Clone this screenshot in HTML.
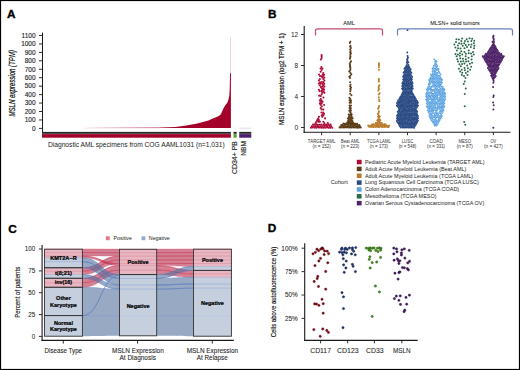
<!DOCTYPE html>
<html><head><meta charset="utf-8"><title>Figure</title>
<style>
html,body{margin:0;padding:0;background:#fff;}
body{width:520px;height:370px;overflow:hidden;}
svg{display:block;font-family:"Liberation Sans", sans-serif;}
</style></head><body>
<svg width="520" height="370" viewBox="0 0 520 370">
<rect x="0" y="0" width="520" height="370" fill="#fff"/>
<text x="7.00" y="17.70" font-size="11.8" text-anchor="start" fill="#000" font-weight="bold" stroke="#000" stroke-width="0.35">A</text>
<line x1="39.00" y1="128.40" x2="42.50" y2="128.40" stroke="#1a1a1a" stroke-width="0.9"/>
<text x="35.60" y="130.70" font-size="6.5" text-anchor="end" fill="#222" stroke="#222" stroke-width="0.12">0</text>
<line x1="39.00" y1="119.96" x2="42.50" y2="119.96" stroke="#1a1a1a" stroke-width="0.9"/>
<text x="35.60" y="122.26" font-size="6.5" text-anchor="end" fill="#222" stroke="#222" stroke-width="0.12">100</text>
<line x1="39.00" y1="111.51" x2="42.50" y2="111.51" stroke="#1a1a1a" stroke-width="0.9"/>
<text x="35.60" y="113.81" font-size="6.5" text-anchor="end" fill="#222" stroke="#222" stroke-width="0.12">200</text>
<line x1="39.00" y1="103.06" x2="42.50" y2="103.06" stroke="#1a1a1a" stroke-width="0.9"/>
<text x="35.60" y="105.36" font-size="6.5" text-anchor="end" fill="#222" stroke="#222" stroke-width="0.12">300</text>
<line x1="39.00" y1="94.62" x2="42.50" y2="94.62" stroke="#1a1a1a" stroke-width="0.9"/>
<text x="35.60" y="96.92" font-size="6.5" text-anchor="end" fill="#222" stroke="#222" stroke-width="0.12">400</text>
<line x1="39.00" y1="86.18" x2="42.50" y2="86.18" stroke="#1a1a1a" stroke-width="0.9"/>
<text x="35.60" y="88.48" font-size="6.5" text-anchor="end" fill="#222" stroke="#222" stroke-width="0.12">500</text>
<line x1="39.00" y1="77.73" x2="42.50" y2="77.73" stroke="#1a1a1a" stroke-width="0.9"/>
<text x="35.60" y="80.03" font-size="6.5" text-anchor="end" fill="#222" stroke="#222" stroke-width="0.12">600</text>
<line x1="39.00" y1="69.29" x2="42.50" y2="69.29" stroke="#1a1a1a" stroke-width="0.9"/>
<text x="35.60" y="71.59" font-size="6.5" text-anchor="end" fill="#222" stroke="#222" stroke-width="0.12">700</text>
<line x1="39.00" y1="60.84" x2="42.50" y2="60.84" stroke="#1a1a1a" stroke-width="0.9"/>
<text x="35.60" y="63.14" font-size="6.5" text-anchor="end" fill="#222" stroke="#222" stroke-width="0.12">800</text>
<line x1="39.00" y1="52.40" x2="42.50" y2="52.40" stroke="#1a1a1a" stroke-width="0.9"/>
<text x="35.60" y="54.70" font-size="6.5" text-anchor="end" fill="#222" stroke="#222" stroke-width="0.12">900</text>
<line x1="39.00" y1="43.95" x2="42.50" y2="43.95" stroke="#1a1a1a" stroke-width="0.9"/>
<text x="35.60" y="46.25" font-size="6.5" text-anchor="end" fill="#222" stroke="#222" stroke-width="0.12">1000</text>
<line x1="39.00" y1="35.51" x2="42.50" y2="35.51" stroke="#1a1a1a" stroke-width="0.9"/>
<text x="35.60" y="37.81" font-size="6.5" text-anchor="end" fill="#222" stroke="#222" stroke-width="0.12">1100</text>
<line x1="42.50" y1="32.60" x2="42.50" y2="133.00" stroke="#1a1a1a" stroke-width="1.0"/>
<text transform="translate(14.60,116.60) rotate(-90)" font-size="8.2" text-anchor="start" fill="#111" font-style="italic" textLength="66.60" lengthAdjust="spacingAndGlyphs" stroke="#111" stroke-width="0.22">MSLN expression (TPM)</text>
<path d="M42.00,127.90 L84.00,127.90 L120.00,127.80 L160.00,127.50 L175.30,126.90 L186.40,125.60 L197.40,123.40 L208.50,120.50 L212.90,118.60 L217.30,116.70 L220.20,115.00 L221.50,113.00 L222.90,109.60 L225.10,105.40 L227.30,102.80 L228.40,99.80 L229.30,95.50 L229.70,89.00 L229.90,80.00 L230.00,73.00 L230.90,73.00 L230.90,127.90 Z" fill="#a3002a"/>
<rect x="230.10" y="37.30" width="0.80" height="36.00" fill="#f3c6d0"/>
<line x1="84.00" y1="128.20" x2="160.00" y2="128.20" stroke="#f4d4dc" stroke-width="0.6"/>
<rect x="42.00" y="131.90" width="188.90" height="1.90" fill="#262626"/>
<rect x="42.00" y="134.10" width="188.90" height="3.60" fill="#a3002a"/>
<rect x="233.50" y="131.90" width="3.20" height="1.90" fill="#262626"/>
<rect x="233.50" y="134.10" width="3.20" height="3.60" fill="#5aa02c"/>
<line x1="234.00" y1="128.10" x2="236.20" y2="128.10" stroke="#c8e0b8" stroke-width="0.6"/>
<rect x="239.20" y="131.90" width="12.10" height="1.90" fill="#262626"/>
<rect x="239.20" y="134.10" width="12.10" height="3.60" fill="#4b1f6f"/>
<line x1="239.20" y1="128.20" x2="251.30" y2="128.20" stroke="#d8cce4" stroke-width="0.7"/>
<text x="48.00" y="146.50" font-size="6.5" text-anchor="start" fill="#222" textLength="176.60" lengthAdjust="spacingAndGlyphs">Diagnostic AML specimens from COG AAML1031 (n=1,031)</text>
<text transform="translate(237.20,174.10) rotate(-90)" font-size="6.5" text-anchor="start" fill="#222" textLength="33.00" lengthAdjust="spacingAndGlyphs" stroke="#222" stroke-width="0.12">CD34+ PB</text>
<text transform="translate(246.30,155.70) rotate(-90)" font-size="6.5" text-anchor="start" fill="#222" textLength="14.60" lengthAdjust="spacingAndGlyphs" stroke="#222" stroke-width="0.12">NBM</text>
<text x="268.00" y="18.00" font-size="11.8" text-anchor="start" fill="#000" font-weight="bold" stroke="#000" stroke-width="0.35">B</text>
<line x1="301.00" y1="127.50" x2="304.20" y2="127.50" stroke="#1a1a1a" stroke-width="0.9"/>
<text x="298.20" y="129.80" font-size="6.5" text-anchor="end" fill="#222">0</text>
<line x1="301.00" y1="96.50" x2="304.20" y2="96.50" stroke="#1a1a1a" stroke-width="0.9"/>
<text x="298.20" y="98.80" font-size="6.5" text-anchor="end" fill="#222">4</text>
<line x1="301.00" y1="65.50" x2="304.20" y2="65.50" stroke="#1a1a1a" stroke-width="0.9"/>
<text x="298.20" y="67.80" font-size="6.5" text-anchor="end" fill="#222">8</text>
<line x1="301.00" y1="34.50" x2="304.20" y2="34.50" stroke="#1a1a1a" stroke-width="0.9"/>
<text x="298.20" y="36.80" font-size="6.5" text-anchor="end" fill="#222">12</text>
<line x1="304.20" y1="26.00" x2="304.20" y2="132.70" stroke="#1a1a1a" stroke-width="1.1"/>
<line x1="303.50" y1="132.20" x2="510.50" y2="132.20" stroke="#1a1a1a" stroke-width="1.1"/>
<text transform="translate(284.30,124.90) rotate(-90)" font-size="7.8" text-anchor="start" fill="#111" textLength="91.60" lengthAdjust="spacingAndGlyphs" stroke="#111" stroke-width="0.2">MSLN expression (log2 TPM + 1)</text>
<line x1="321.60" y1="132.20" x2="321.60" y2="135.20" stroke="#1a1a1a" stroke-width="0.9"/>
<line x1="350.23" y1="132.20" x2="350.23" y2="135.20" stroke="#1a1a1a" stroke-width="0.9"/>
<line x1="378.86" y1="132.20" x2="378.86" y2="135.20" stroke="#1a1a1a" stroke-width="0.9"/>
<line x1="407.49" y1="132.20" x2="407.49" y2="135.20" stroke="#1a1a1a" stroke-width="0.9"/>
<line x1="436.12" y1="132.20" x2="436.12" y2="135.20" stroke="#1a1a1a" stroke-width="0.9"/>
<line x1="464.75" y1="132.20" x2="464.75" y2="135.20" stroke="#1a1a1a" stroke-width="0.9"/>
<line x1="493.38" y1="132.20" x2="493.38" y2="135.20" stroke="#1a1a1a" stroke-width="0.9"/>
<path d="M315.5,35.5 V30.8 Q315.5,28.8 317.5,28.8 H380.5 Q382.5,28.8 382.5,30.8 V35.5" fill="none" stroke="#c4486a" stroke-width="1.2"/>
<path d="M397.5,35.5 V30.8 Q397.5,28.8 399.5,28.8 H510.5 Q512.5,28.8 512.5,30.8 V35.5" fill="none" stroke="#6a80b4" stroke-width="1.2"/>
<text x="349.00" y="25.40" font-size="5.6" text-anchor="middle" fill="#222" textLength="11.60" lengthAdjust="spacingAndGlyphs" stroke="#222" stroke-width="0.06">AML</text>
<text x="430.20" y="25.40" font-size="5.6" text-anchor="start" fill="#222" textLength="49.60" lengthAdjust="spacingAndGlyphs" stroke="#222" stroke-width="0.06">MLSN+ solid tumors</text>
<text x="321.60" y="143.10" font-size="4.5" text-anchor="middle" fill="#333" textLength="27.50" lengthAdjust="spacingAndGlyphs">TARGET AML</text>
<text x="321.60" y="148.00" font-size="4.5" text-anchor="middle" fill="#333" textLength="18.30" lengthAdjust="spacingAndGlyphs">(n = 152)</text>
<text x="350.23" y="143.10" font-size="4.5" text-anchor="middle" fill="#333" textLength="19.00" lengthAdjust="spacingAndGlyphs">Beat AML</text>
<text x="350.23" y="148.00" font-size="4.5" text-anchor="middle" fill="#333" textLength="18.30" lengthAdjust="spacingAndGlyphs">(n = 223)</text>
<text x="378.86" y="143.10" font-size="4.5" text-anchor="middle" fill="#333" textLength="23.90" lengthAdjust="spacingAndGlyphs">TCGA LAML</text>
<text x="378.86" y="148.00" font-size="4.5" text-anchor="middle" fill="#333" textLength="18.30" lengthAdjust="spacingAndGlyphs">(n = 173)</text>
<text x="407.49" y="143.10" font-size="4.5" text-anchor="middle" fill="#333" textLength="11.60" lengthAdjust="spacingAndGlyphs">LUSC</text>
<text x="407.49" y="148.00" font-size="4.5" text-anchor="middle" fill="#333" textLength="17.70" lengthAdjust="spacingAndGlyphs">(n = 548)</text>
<text x="436.12" y="143.10" font-size="4.5" text-anchor="middle" fill="#333" textLength="13.40" lengthAdjust="spacingAndGlyphs">COAD</text>
<text x="436.12" y="148.00" font-size="4.5" text-anchor="middle" fill="#333" textLength="18.00" lengthAdjust="spacingAndGlyphs">(n = 331)</text>
<text x="464.75" y="143.10" font-size="4.5" text-anchor="middle" fill="#333" textLength="12.70" lengthAdjust="spacingAndGlyphs">MESO</text>
<text x="464.75" y="148.00" font-size="4.5" text-anchor="middle" fill="#333" textLength="16.10" lengthAdjust="spacingAndGlyphs">(n = 87)</text>
<text x="493.38" y="143.10" font-size="4.5" text-anchor="middle" fill="#333" textLength="5.80" lengthAdjust="spacingAndGlyphs">OV</text>
<text x="493.38" y="148.00" font-size="4.5" text-anchor="middle" fill="#333" textLength="18.90" lengthAdjust="spacingAndGlyphs">(n = 427)</text>
<text x="330.80" y="184.20" font-size="5.9" text-anchor="start" fill="#222" textLength="16.90" lengthAdjust="spacingAndGlyphs">Cohort</text>
<rect x="356.80" y="159.80" width="4.80" height="4.50" fill="#ae0c36"/>
<text x="365.00" y="163.80" font-size="5.5" text-anchor="start" fill="#222" textLength="119.60" lengthAdjust="spacingAndGlyphs">Pediatric Acute Myeloid Leukemia (TARGET AML)</text>
<rect x="356.80" y="166.65" width="4.80" height="4.50" fill="#5a3a16"/>
<text x="365.00" y="170.65" font-size="5.5" text-anchor="start" fill="#222" textLength="101.30" lengthAdjust="spacingAndGlyphs">Adult Acute Myeloid Leukemia (Beat AML)</text>
<rect x="356.80" y="173.50" width="4.80" height="4.50" fill="#b87a2c"/>
<text x="365.00" y="177.50" font-size="5.5" text-anchor="start" fill="#222" textLength="108.10" lengthAdjust="spacingAndGlyphs">Adult Acute Myeloid Leukemia (TCGA LAML)</text>
<rect x="356.80" y="180.35" width="4.80" height="4.50" fill="#2a4a84"/>
<text x="365.00" y="184.35" font-size="5.5" text-anchor="start" fill="#222" textLength="113.80" lengthAdjust="spacingAndGlyphs">Lung Squamous Cell Carcinoma (TCGA LUSC)</text>
<rect x="356.80" y="187.20" width="4.80" height="4.50" fill="#5ca3e2"/>
<text x="365.00" y="191.20" font-size="5.5" text-anchor="start" fill="#222" textLength="94.20" lengthAdjust="spacingAndGlyphs">Colon Adenocarcinoma (TCGA COAD)</text>
<rect x="356.80" y="194.05" width="4.80" height="4.50" fill="#2a6a4a"/>
<text x="365.00" y="198.05" font-size="5.5" text-anchor="start" fill="#222" textLength="71.50" lengthAdjust="spacingAndGlyphs">Mesothelioma (TCGA MESO)</text>
<rect x="356.80" y="200.90" width="4.80" height="4.50" fill="#4f2268"/>
<text x="365.00" y="204.90" font-size="5.5" text-anchor="start" fill="#222" textLength="119.20" lengthAdjust="spacingAndGlyphs">Ovarian Serous Cystadenocarcinoma (TCGA OV)</text>
<g fill="#ae0c36"><circle cx="321.62" cy="55.07" r="1.05"/><circle cx="321.59" cy="56.29" r="1.05"/><circle cx="321.65" cy="58.05" r="1.05"/><circle cx="320.85" cy="59.57" r="1.05"/><circle cx="321.41" cy="67.04" r="1.05"/><circle cx="320.60" cy="68.44" r="1.05"/><circle cx="322.46" cy="68.52" r="1.05"/><circle cx="321.66" cy="70.05" r="1.05"/><circle cx="320.64" cy="71.77" r="1.05"/><circle cx="323.24" cy="73.00" r="1.05"/><circle cx="319.08" cy="74.56" r="1.05"/><circle cx="322.66" cy="74.74" r="1.05"/><circle cx="324.11" cy="74.77" r="1.05"/><circle cx="320.04" cy="76.08" r="1.05"/><circle cx="321.65" cy="76.23" r="1.05"/><circle cx="323.18" cy="76.05" r="1.05"/><circle cx="322.37" cy="77.47" r="1.05"/><circle cx="324.34" cy="77.50" r="1.05"/><circle cx="319.83" cy="79.02" r="1.05"/><circle cx="323.41" cy="78.99" r="1.05"/><circle cx="318.86" cy="80.57" r="1.05"/><circle cx="324.38" cy="80.55" r="1.05"/><circle cx="319.99" cy="82.24" r="1.05"/><circle cx="321.80" cy="82.06" r="1.05"/><circle cx="323.46" cy="82.11" r="1.05"/><circle cx="318.80" cy="83.53" r="1.05"/><circle cx="320.62" cy="83.74" r="1.05"/><circle cx="322.46" cy="83.88" r="1.05"/><circle cx="324.25" cy="83.84" r="1.05"/><circle cx="319.71" cy="85.37" r="1.05"/><circle cx="323.23" cy="85.31" r="1.05"/><circle cx="320.91" cy="86.88" r="1.05"/><circle cx="322.44" cy="86.57" r="1.05"/><circle cx="324.41" cy="86.62" r="1.05"/><circle cx="321.73" cy="88.28" r="1.05"/><circle cx="323.22" cy="88.33" r="1.05"/><circle cx="318.87" cy="89.78" r="1.05"/><circle cx="322.39" cy="89.92" r="1.05"/><circle cx="324.03" cy="89.66" r="1.05"/><circle cx="319.67" cy="91.14" r="1.05"/><circle cx="321.63" cy="91.12" r="1.05"/><circle cx="323.51" cy="91.46" r="1.05"/><circle cx="322.33" cy="92.60" r="1.05"/><circle cx="324.39" cy="92.87" r="1.05"/><circle cx="321.65" cy="94.30" r="1.05"/><circle cx="319.17" cy="95.65" r="1.05"/><circle cx="320.82" cy="95.98" r="1.05"/><circle cx="323.42" cy="97.49" r="1.05"/><circle cx="320.84" cy="98.99" r="1.05"/><circle cx="319.88" cy="100.41" r="1.05"/><circle cx="321.66" cy="100.56" r="1.05"/><circle cx="320.82" cy="101.91" r="1.05"/><circle cx="322.61" cy="101.71" r="1.05"/><circle cx="319.89" cy="103.39" r="1.05"/><circle cx="321.68" cy="103.39" r="1.05"/><circle cx="320.53" cy="104.83" r="1.05"/><circle cx="324.09" cy="105.07" r="1.05"/><circle cx="321.76" cy="106.36" r="1.05"/><circle cx="320.70" cy="108.06" r="1.05"/><circle cx="321.63" cy="109.38" r="1.05"/><circle cx="323.35" cy="109.59" r="1.05"/><circle cx="321.47" cy="112.47" r="1.05"/><circle cx="323.24" cy="112.45" r="1.05"/><circle cx="322.61" cy="114.20" r="1.05"/><circle cx="324.05" cy="113.82" r="1.05"/><circle cx="321.68" cy="115.55" r="1.05"/><circle cx="323.47" cy="115.33" r="1.05"/><circle cx="318.96" cy="116.85" r="1.05"/><circle cx="322.33" cy="116.85" r="1.05"/><circle cx="318.15" cy="118.61" r="1.05"/><circle cx="325.09" cy="118.42" r="1.05"/><circle cx="317.21" cy="120.15" r="1.05"/><circle cx="318.88" cy="120.00" r="1.05"/><circle cx="316.47" cy="121.74" r="1.05"/><circle cx="318.27" cy="121.67" r="1.05"/><circle cx="319.83" cy="121.63" r="1.05"/><circle cx="323.38" cy="121.73" r="1.05"/><circle cx="315.54" cy="122.98" r="1.05"/><circle cx="324.38" cy="123.29" r="1.05"/><circle cx="327.84" cy="123.03" r="1.05"/><circle cx="312.99" cy="124.55" r="1.05"/><circle cx="314.58" cy="124.63" r="1.05"/><circle cx="316.34" cy="124.42" r="1.05"/><circle cx="317.93" cy="124.73" r="1.05"/><circle cx="319.78" cy="124.73" r="1.05"/><circle cx="321.46" cy="124.62" r="1.05"/><circle cx="323.49" cy="124.69" r="1.05"/><circle cx="325.10" cy="124.79" r="1.05"/><circle cx="326.74" cy="124.62" r="1.05"/><circle cx="328.69" cy="124.67" r="1.05"/><circle cx="330.49" cy="124.64" r="1.05"/><circle cx="311.93" cy="126.27" r="1.05"/><circle cx="313.61" cy="126.27" r="1.05"/><circle cx="315.48" cy="126.16" r="1.05"/><circle cx="317.24" cy="126.13" r="1.05"/><circle cx="318.79" cy="126.32" r="1.05"/><circle cx="320.69" cy="126.25" r="1.05"/><circle cx="322.47" cy="126.20" r="1.05"/><circle cx="324.24" cy="126.09" r="1.05"/><circle cx="326.14" cy="126.04" r="1.05"/><circle cx="327.58" cy="126.10" r="1.05"/><circle cx="329.64" cy="126.12" r="1.05"/><circle cx="331.10" cy="126.18" r="1.05"/><circle cx="310.95" cy="127.76" r="1.05"/><circle cx="312.73" cy="127.53" r="1.05"/><circle cx="314.53" cy="127.59" r="1.05"/><circle cx="316.19" cy="127.74" r="1.05"/><circle cx="318.10" cy="127.54" r="1.05"/><circle cx="319.86" cy="127.62" r="1.05"/><circle cx="321.57" cy="127.66" r="1.05"/><circle cx="323.23" cy="127.70" r="1.05"/><circle cx="325.11" cy="127.78" r="1.05"/><circle cx="326.99" cy="127.54" r="1.05"/><circle cx="328.72" cy="127.81" r="1.05"/><circle cx="330.28" cy="127.81" r="1.05"/><circle cx="332.30" cy="127.80" r="1.05"/></g>
<g fill="#5a3a16"><circle cx="350.29" cy="41.87" r="1.0"/><circle cx="349.79" cy="43.01" r="1.0"/><circle cx="350.50" cy="45.76" r="1.0"/><circle cx="350.21" cy="46.86" r="1.0"/><circle cx="350.96" cy="48.12" r="1.0"/><circle cx="350.16" cy="49.56" r="1.0"/><circle cx="350.61" cy="51.06" r="1.0"/><circle cx="350.07" cy="52.39" r="1.0"/><circle cx="350.95" cy="53.35" r="1.0"/><circle cx="350.28" cy="54.66" r="1.0"/><circle cx="350.44" cy="56.22" r="1.0"/><circle cx="350.20" cy="57.43" r="1.0"/><circle cx="350.00" cy="58.78" r="1.0"/><circle cx="351.04" cy="61.23" r="1.0"/><circle cx="350.30" cy="62.43" r="1.0"/><circle cx="349.74" cy="64.01" r="1.0"/><circle cx="350.04" cy="65.31" r="1.0"/><circle cx="349.98" cy="66.45" r="1.0"/><circle cx="350.34" cy="67.62" r="1.0"/><circle cx="350.41" cy="68.89" r="1.0"/><circle cx="350.17" cy="70.43" r="1.0"/><circle cx="349.21" cy="71.59" r="1.0"/><circle cx="350.41" cy="72.97" r="1.0"/><circle cx="351.33" cy="74.22" r="1.0"/><circle cx="350.33" cy="75.74" r="1.0"/><circle cx="349.32" cy="76.81" r="1.0"/><circle cx="350.03" cy="77.99" r="1.0"/><circle cx="350.17" cy="82.18" r="1.0"/><circle cx="350.54" cy="84.66" r="1.0"/><circle cx="350.14" cy="86.14" r="1.0"/><circle cx="351.00" cy="87.41" r="1.0"/><circle cx="350.41" cy="88.57" r="1.0"/><circle cx="350.55" cy="89.78" r="1.0"/><circle cx="350.30" cy="91.24" r="1.0"/><circle cx="350.13" cy="93.73" r="1.0"/><circle cx="351.46" cy="95.23" r="1.0"/><circle cx="349.45" cy="97.69" r="1.0"/><circle cx="350.26" cy="98.89" r="1.0"/><circle cx="349.57" cy="100.28" r="1.0"/><circle cx="351.06" cy="100.42" r="1.0"/><circle cx="350.39" cy="101.72" r="1.0"/><circle cx="349.60" cy="102.80" r="1.0"/><circle cx="350.92" cy="102.78" r="1.0"/><circle cx="349.50" cy="105.50" r="1.0"/><circle cx="350.99" cy="105.53" r="1.0"/><circle cx="350.13" cy="106.71" r="1.0"/><circle cx="349.55" cy="107.91" r="1.0"/><circle cx="350.90" cy="108.13" r="1.0"/><circle cx="350.29" cy="109.52" r="1.0"/><circle cx="349.29" cy="110.64" r="1.0"/><circle cx="350.85" cy="110.71" r="1.0"/><circle cx="350.13" cy="111.88" r="1.0"/><circle cx="350.92" cy="113.16" r="1.0"/><circle cx="348.70" cy="114.43" r="1.0"/><circle cx="350.23" cy="114.62" r="1.0"/><circle cx="351.72" cy="114.59" r="1.0"/><circle cx="349.38" cy="115.83" r="1.0"/><circle cx="351.11" cy="115.73" r="1.0"/><circle cx="348.83" cy="117.10" r="1.0"/><circle cx="350.30" cy="117.33" r="1.0"/><circle cx="351.80" cy="117.08" r="1.0"/><circle cx="347.91" cy="118.44" r="1.0"/><circle cx="349.40" cy="118.30" r="1.0"/><circle cx="351.00" cy="118.34" r="1.0"/><circle cx="352.60" cy="118.36" r="1.0"/><circle cx="348.77" cy="119.70" r="1.0"/><circle cx="350.39" cy="119.67" r="1.0"/><circle cx="351.79" cy="119.88" r="1.0"/><circle cx="348.09" cy="121.00" r="1.0"/><circle cx="349.39" cy="121.00" r="1.0"/><circle cx="350.93" cy="121.00" r="1.0"/><circle cx="352.35" cy="120.92" r="1.0"/><circle cx="347.42" cy="122.35" r="1.0"/><circle cx="348.86" cy="122.49" r="1.0"/><circle cx="350.17" cy="122.43" r="1.0"/><circle cx="351.58" cy="122.48" r="1.0"/><circle cx="353.11" cy="122.49" r="1.0"/><circle cx="343.40" cy="123.44" r="1.0"/><circle cx="344.85" cy="123.72" r="1.0"/><circle cx="346.36" cy="123.51" r="1.0"/><circle cx="348.12" cy="123.68" r="1.0"/><circle cx="349.55" cy="123.65" r="1.0"/><circle cx="350.99" cy="123.70" r="1.0"/><circle cx="352.48" cy="123.69" r="1.0"/><circle cx="354.03" cy="123.59" r="1.0"/><circle cx="355.49" cy="123.72" r="1.0"/><circle cx="357.15" cy="123.63" r="1.0"/><circle cx="341.31" cy="125.12" r="1.0"/><circle cx="342.70" cy="124.90" r="1.0"/><circle cx="344.33" cy="125.07" r="1.0"/><circle cx="345.55" cy="124.78" r="1.0"/><circle cx="347.05" cy="124.74" r="1.0"/><circle cx="348.58" cy="125.01" r="1.0"/><circle cx="350.42" cy="125.12" r="1.0"/><circle cx="351.91" cy="124.75" r="1.0"/><circle cx="353.40" cy="124.93" r="1.0"/><circle cx="354.83" cy="124.91" r="1.0"/><circle cx="356.16" cy="124.83" r="1.0"/><circle cx="357.77" cy="125.12" r="1.0"/><circle cx="359.34" cy="125.11" r="1.0"/><circle cx="340.40" cy="126.40" r="1.0"/><circle cx="342.05" cy="126.04" r="1.0"/><circle cx="343.47" cy="126.33" r="1.0"/><circle cx="345.08" cy="126.17" r="1.0"/><circle cx="346.62" cy="126.43" r="1.0"/><circle cx="347.86" cy="126.28" r="1.0"/><circle cx="349.42" cy="126.13" r="1.0"/><circle cx="351.02" cy="126.09" r="1.0"/><circle cx="352.66" cy="126.33" r="1.0"/><circle cx="353.95" cy="126.08" r="1.0"/><circle cx="355.53" cy="126.10" r="1.0"/><circle cx="357.02" cy="126.27" r="1.0"/><circle cx="358.40" cy="126.18" r="1.0"/><circle cx="359.91" cy="126.24" r="1.0"/><circle cx="339.60" cy="127.49" r="1.0"/><circle cx="341.16" cy="127.48" r="1.0"/><circle cx="342.91" cy="127.45" r="1.0"/><circle cx="344.29" cy="127.49" r="1.0"/><circle cx="345.79" cy="127.36" r="1.0"/><circle cx="347.07" cy="127.43" r="1.0"/><circle cx="348.93" cy="127.60" r="1.0"/><circle cx="350.21" cy="127.45" r="1.0"/><circle cx="351.62" cy="127.41" r="1.0"/><circle cx="353.28" cy="127.57" r="1.0"/><circle cx="354.91" cy="127.52" r="1.0"/><circle cx="356.19" cy="127.52" r="1.0"/><circle cx="357.82" cy="127.63" r="1.0"/><circle cx="359.24" cy="127.62" r="1.0"/><circle cx="360.79" cy="127.58" r="1.0"/></g>
<g fill="#b87a2c"><circle cx="378.93" cy="63.37" r="1.0"/><circle cx="379.12" cy="64.46" r="1.0"/><circle cx="378.95" cy="65.75" r="1.0"/><circle cx="378.81" cy="67.17" r="1.0"/><circle cx="378.90" cy="69.65" r="1.0"/><circle cx="378.96" cy="78.91" r="1.0"/><circle cx="378.72" cy="80.11" r="1.0"/><circle cx="378.99" cy="81.61" r="1.0"/><circle cx="379.33" cy="85.36" r="1.0"/><circle cx="378.74" cy="86.69" r="1.0"/><circle cx="378.51" cy="87.94" r="1.0"/><circle cx="378.86" cy="89.17" r="1.0"/><circle cx="378.38" cy="90.41" r="1.0"/><circle cx="379.67" cy="93.35" r="1.0"/><circle cx="378.72" cy="94.60" r="1.0"/><circle cx="378.83" cy="97.22" r="1.0"/><circle cx="379.00" cy="99.62" r="1.0"/><circle cx="379.40" cy="101.01" r="1.0"/><circle cx="379.11" cy="106.10" r="1.0"/><circle cx="378.73" cy="107.54" r="1.0"/><circle cx="378.00" cy="108.82" r="1.0"/><circle cx="378.92" cy="111.30" r="1.0"/><circle cx="378.66" cy="112.86" r="1.0"/><circle cx="377.91" cy="114.00" r="1.0"/><circle cx="378.85" cy="115.21" r="1.0"/><circle cx="377.91" cy="116.49" r="1.0"/><circle cx="379.80" cy="116.57" r="1.0"/><circle cx="378.93" cy="117.78" r="1.0"/><circle cx="378.11" cy="119.32" r="1.0"/><circle cx="379.51" cy="119.23" r="1.0"/><circle cx="377.26" cy="120.49" r="1.0"/><circle cx="378.76" cy="120.37" r="1.0"/><circle cx="380.30" cy="120.27" r="1.0"/><circle cx="377.94" cy="121.86" r="1.0"/><circle cx="379.41" cy="121.86" r="1.0"/><circle cx="375.85" cy="123.08" r="1.0"/><circle cx="377.28" cy="123.03" r="1.0"/><circle cx="379.01" cy="122.90" r="1.0"/><circle cx="380.25" cy="122.98" r="1.0"/><circle cx="381.67" cy="122.91" r="1.0"/><circle cx="372.09" cy="124.50" r="1.0"/><circle cx="373.43" cy="124.37" r="1.0"/><circle cx="375.23" cy="124.28" r="1.0"/><circle cx="376.63" cy="124.20" r="1.0"/><circle cx="378.01" cy="124.50" r="1.0"/><circle cx="379.60" cy="124.30" r="1.0"/><circle cx="381.23" cy="124.24" r="1.0"/><circle cx="382.68" cy="124.53" r="1.0"/><circle cx="384.28" cy="124.33" r="1.0"/><circle cx="385.66" cy="124.49" r="1.0"/><circle cx="368.21" cy="125.51" r="1.0"/><circle cx="369.98" cy="125.67" r="1.0"/><circle cx="371.54" cy="125.57" r="1.0"/><circle cx="372.68" cy="125.46" r="1.0"/><circle cx="374.20" cy="125.74" r="1.0"/><circle cx="376.06" cy="125.78" r="1.0"/><circle cx="377.41" cy="125.79" r="1.0"/><circle cx="378.78" cy="125.76" r="1.0"/><circle cx="380.28" cy="125.85" r="1.0"/><circle cx="381.77" cy="125.77" r="1.0"/><circle cx="383.16" cy="125.46" r="1.0"/><circle cx="384.79" cy="125.83" r="1.0"/><circle cx="386.50" cy="125.79" r="1.0"/><circle cx="388.06" cy="125.76" r="1.0"/><circle cx="389.26" cy="125.64" r="1.0"/><circle cx="369.12" cy="126.83" r="1.0"/><circle cx="370.60" cy="126.83" r="1.0"/><circle cx="371.92" cy="127.08" r="1.0"/><circle cx="373.45" cy="126.99" r="1.0"/><circle cx="375.26" cy="126.95" r="1.0"/><circle cx="376.74" cy="126.84" r="1.0"/><circle cx="378.17" cy="126.92" r="1.0"/><circle cx="379.42" cy="127.10" r="1.0"/><circle cx="381.25" cy="126.81" r="1.0"/><circle cx="382.61" cy="127.12" r="1.0"/><circle cx="384.10" cy="126.99" r="1.0"/><circle cx="385.62" cy="126.75" r="1.0"/><circle cx="387.21" cy="126.89" r="1.0"/><circle cx="388.43" cy="127.03" r="1.0"/></g>
<g fill="#2a4a84"><circle cx="407.57" cy="56.06" r="1.0"/><circle cx="407.92" cy="57.39" r="1.0"/><circle cx="407.41" cy="58.67" r="1.0"/><circle cx="407.17" cy="59.79" r="1.0"/><circle cx="407.43" cy="61.10" r="1.0"/><circle cx="406.79" cy="62.35" r="1.0"/><circle cx="408.31" cy="62.36" r="1.0"/><circle cx="407.34" cy="63.73" r="1.0"/><circle cx="406.62" cy="65.28" r="1.0"/><circle cx="408.44" cy="65.07" r="1.0"/><circle cx="406.14" cy="66.47" r="1.0"/><circle cx="407.53" cy="66.45" r="1.0"/><circle cx="408.83" cy="66.54" r="1.0"/><circle cx="405.12" cy="67.67" r="1.0"/><circle cx="406.86" cy="67.69" r="1.0"/><circle cx="408.37" cy="67.53" r="1.0"/><circle cx="409.55" cy="67.79" r="1.0"/><circle cx="404.50" cy="68.83" r="1.0"/><circle cx="406.06" cy="69.00" r="1.0"/><circle cx="407.48" cy="68.96" r="1.0"/><circle cx="408.83" cy="68.98" r="1.0"/><circle cx="410.64" cy="69.17" r="1.0"/><circle cx="405.10" cy="70.37" r="1.0"/><circle cx="406.55" cy="70.37" r="1.0"/><circle cx="408.21" cy="70.23" r="1.0"/><circle cx="409.92" cy="70.19" r="1.0"/><circle cx="404.37" cy="71.64" r="1.0"/><circle cx="405.89" cy="71.54" r="1.0"/><circle cx="407.41" cy="71.78" r="1.0"/><circle cx="408.90" cy="71.76" r="1.0"/><circle cx="410.39" cy="71.40" r="1.0"/><circle cx="403.62" cy="72.78" r="1.0"/><circle cx="405.15" cy="72.79" r="1.0"/><circle cx="406.91" cy="72.80" r="1.0"/><circle cx="408.19" cy="72.91" r="1.0"/><circle cx="409.92" cy="72.99" r="1.0"/><circle cx="411.38" cy="72.83" r="1.0"/><circle cx="404.67" cy="74.20" r="1.0"/><circle cx="405.92" cy="74.35" r="1.0"/><circle cx="407.39" cy="74.36" r="1.0"/><circle cx="408.93" cy="74.09" r="1.0"/><circle cx="410.37" cy="74.26" r="1.0"/><circle cx="403.64" cy="75.46" r="1.0"/><circle cx="405.19" cy="75.60" r="1.0"/><circle cx="406.69" cy="75.46" r="1.0"/><circle cx="408.13" cy="75.34" r="1.0"/><circle cx="409.60" cy="75.55" r="1.0"/><circle cx="411.30" cy="75.55" r="1.0"/><circle cx="403.16" cy="76.85" r="1.0"/><circle cx="404.31" cy="76.75" r="1.0"/><circle cx="405.98" cy="76.96" r="1.0"/><circle cx="407.31" cy="76.86" r="1.0"/><circle cx="409.01" cy="76.62" r="1.0"/><circle cx="410.46" cy="76.98" r="1.0"/><circle cx="412.12" cy="76.96" r="1.0"/><circle cx="403.86" cy="78.01" r="1.0"/><circle cx="405.19" cy="78.12" r="1.0"/><circle cx="406.72" cy="78.20" r="1.0"/><circle cx="408.25" cy="78.00" r="1.0"/><circle cx="409.64" cy="78.16" r="1.0"/><circle cx="411.04" cy="78.28" r="1.0"/><circle cx="403.19" cy="79.55" r="1.0"/><circle cx="404.63" cy="79.34" r="1.0"/><circle cx="405.93" cy="79.56" r="1.0"/><circle cx="407.34" cy="79.56" r="1.0"/><circle cx="409.07" cy="79.57" r="1.0"/><circle cx="410.62" cy="79.36" r="1.0"/><circle cx="411.82" cy="79.36" r="1.0"/><circle cx="403.86" cy="80.65" r="1.0"/><circle cx="405.43" cy="80.65" r="1.0"/><circle cx="406.55" cy="80.83" r="1.0"/><circle cx="408.20" cy="80.69" r="1.0"/><circle cx="409.63" cy="80.58" r="1.0"/><circle cx="411.38" cy="80.58" r="1.0"/><circle cx="403.14" cy="82.00" r="1.0"/><circle cx="404.56" cy="82.05" r="1.0"/><circle cx="406.10" cy="81.95" r="1.0"/><circle cx="407.59" cy="82.03" r="1.0"/><circle cx="408.86" cy="81.93" r="1.0"/><circle cx="410.44" cy="82.02" r="1.0"/><circle cx="412.09" cy="81.92" r="1.0"/><circle cx="402.37" cy="83.20" r="1.0"/><circle cx="403.79" cy="83.13" r="1.0"/><circle cx="405.15" cy="83.44" r="1.0"/><circle cx="406.60" cy="83.29" r="1.0"/><circle cx="408.23" cy="83.33" r="1.0"/><circle cx="409.92" cy="83.15" r="1.0"/><circle cx="411.05" cy="83.28" r="1.0"/><circle cx="412.59" cy="83.31" r="1.0"/><circle cx="402.91" cy="84.54" r="1.0"/><circle cx="404.53" cy="84.52" r="1.0"/><circle cx="406.13" cy="84.60" r="1.0"/><circle cx="407.62" cy="84.78" r="1.0"/><circle cx="408.80" cy="84.50" r="1.0"/><circle cx="410.36" cy="84.46" r="1.0"/><circle cx="411.84" cy="84.72" r="1.0"/><circle cx="402.20" cy="85.91" r="1.0"/><circle cx="403.85" cy="85.85" r="1.0"/><circle cx="405.35" cy="85.71" r="1.0"/><circle cx="406.87" cy="85.77" r="1.0"/><circle cx="408.12" cy="85.89" r="1.0"/><circle cx="409.69" cy="85.89" r="1.0"/><circle cx="411.39" cy="85.93" r="1.0"/><circle cx="412.57" cy="85.98" r="1.0"/><circle cx="403.01" cy="87.07" r="1.0"/><circle cx="404.33" cy="87.17" r="1.0"/><circle cx="405.94" cy="87.00" r="1.0"/><circle cx="407.68" cy="87.12" r="1.0"/><circle cx="408.93" cy="87.09" r="1.0"/><circle cx="410.68" cy="87.29" r="1.0"/><circle cx="411.81" cy="87.16" r="1.0"/><circle cx="402.06" cy="88.43" r="1.0"/><circle cx="403.58" cy="88.48" r="1.0"/><circle cx="405.41" cy="88.64" r="1.0"/><circle cx="406.61" cy="88.66" r="1.0"/><circle cx="408.18" cy="88.60" r="1.0"/><circle cx="409.92" cy="88.56" r="1.0"/><circle cx="411.10" cy="88.65" r="1.0"/><circle cx="412.82" cy="88.40" r="1.0"/><circle cx="402.91" cy="89.64" r="1.0"/><circle cx="404.34" cy="89.67" r="1.0"/><circle cx="405.87" cy="89.66" r="1.0"/><circle cx="407.38" cy="89.58" r="1.0"/><circle cx="409.05" cy="89.70" r="1.0"/><circle cx="410.51" cy="89.66" r="1.0"/><circle cx="411.88" cy="89.90" r="1.0"/><circle cx="403.54" cy="91.21" r="1.0"/><circle cx="405.24" cy="91.25" r="1.0"/><circle cx="406.64" cy="90.89" r="1.0"/><circle cx="408.22" cy="91.16" r="1.0"/><circle cx="409.93" cy="91.25" r="1.0"/><circle cx="411.24" cy="91.24" r="1.0"/><circle cx="402.84" cy="92.43" r="1.0"/><circle cx="404.68" cy="92.30" r="1.0"/><circle cx="405.91" cy="92.30" r="1.0"/><circle cx="407.61" cy="92.18" r="1.0"/><circle cx="408.89" cy="92.56" r="1.0"/><circle cx="410.47" cy="92.55" r="1.0"/><circle cx="411.94" cy="92.33" r="1.0"/><circle cx="402.32" cy="93.59" r="1.0"/><circle cx="403.77" cy="93.78" r="1.0"/><circle cx="405.23" cy="93.85" r="1.0"/><circle cx="406.92" cy="93.76" r="1.0"/><circle cx="408.18" cy="93.82" r="1.0"/><circle cx="409.84" cy="93.63" r="1.0"/><circle cx="411.05" cy="93.76" r="1.0"/><circle cx="412.74" cy="93.76" r="1.0"/><circle cx="401.67" cy="95.04" r="1.0"/><circle cx="403.16" cy="94.79" r="1.0"/><circle cx="404.66" cy="95.11" r="1.0"/><circle cx="406.14" cy="94.84" r="1.0"/><circle cx="407.41" cy="95.14" r="1.0"/><circle cx="408.92" cy="94.97" r="1.0"/><circle cx="410.64" cy="94.81" r="1.0"/><circle cx="412.19" cy="94.77" r="1.0"/><circle cx="413.45" cy="95.12" r="1.0"/><circle cx="400.77" cy="96.39" r="1.0"/><circle cx="402.37" cy="96.08" r="1.0"/><circle cx="403.55" cy="96.41" r="1.0"/><circle cx="405.08" cy="96.24" r="1.0"/><circle cx="406.55" cy="96.32" r="1.0"/><circle cx="408.17" cy="96.09" r="1.0"/><circle cx="409.87" cy="96.38" r="1.0"/><circle cx="411.14" cy="96.45" r="1.0"/><circle cx="412.93" cy="96.23" r="1.0"/><circle cx="414.31" cy="96.38" r="1.0"/><circle cx="400.10" cy="97.57" r="1.0"/><circle cx="401.48" cy="97.38" r="1.0"/><circle cx="402.92" cy="97.44" r="1.0"/><circle cx="404.50" cy="97.49" r="1.0"/><circle cx="406.17" cy="97.54" r="1.0"/><circle cx="407.29" cy="97.51" r="1.0"/><circle cx="408.99" cy="97.77" r="1.0"/><circle cx="410.30" cy="97.39" r="1.0"/><circle cx="412.09" cy="97.76" r="1.0"/><circle cx="413.53" cy="97.52" r="1.0"/><circle cx="414.84" cy="97.53" r="1.0"/><circle cx="399.36" cy="98.88" r="1.0"/><circle cx="400.88" cy="98.79" r="1.0"/><circle cx="402.33" cy="98.92" r="1.0"/><circle cx="403.79" cy="99.03" r="1.0"/><circle cx="405.26" cy="99.05" r="1.0"/><circle cx="406.91" cy="99.02" r="1.0"/><circle cx="408.08" cy="99.02" r="1.0"/><circle cx="409.67" cy="99.05" r="1.0"/><circle cx="411.30" cy="98.76" r="1.0"/><circle cx="412.63" cy="98.71" r="1.0"/><circle cx="414.22" cy="98.97" r="1.0"/><circle cx="415.66" cy="98.78" r="1.0"/><circle cx="398.34" cy="100.19" r="1.0"/><circle cx="400.07" cy="100.07" r="1.0"/><circle cx="401.33" cy="100.15" r="1.0"/><circle cx="402.79" cy="100.22" r="1.0"/><circle cx="404.40" cy="100.09" r="1.0"/><circle cx="405.85" cy="100.07" r="1.0"/><circle cx="407.50" cy="100.03" r="1.0"/><circle cx="408.99" cy="100.31" r="1.0"/><circle cx="410.56" cy="100.18" r="1.0"/><circle cx="411.96" cy="100.29" r="1.0"/><circle cx="413.51" cy="100.16" r="1.0"/><circle cx="414.96" cy="100.03" r="1.0"/><circle cx="416.30" cy="100.19" r="1.0"/><circle cx="397.89" cy="101.64" r="1.0"/><circle cx="399.36" cy="101.41" r="1.0"/><circle cx="400.73" cy="101.56" r="1.0"/><circle cx="402.42" cy="101.45" r="1.0"/><circle cx="403.61" cy="101.56" r="1.0"/><circle cx="405.20" cy="101.42" r="1.0"/><circle cx="406.77" cy="101.38" r="1.0"/><circle cx="408.06" cy="101.46" r="1.0"/><circle cx="409.58" cy="101.35" r="1.0"/><circle cx="411.05" cy="101.55" r="1.0"/><circle cx="412.87" cy="101.61" r="1.0"/><circle cx="414.41" cy="101.32" r="1.0"/><circle cx="415.64" cy="101.54" r="1.0"/><circle cx="417.32" cy="101.35" r="1.0"/><circle cx="396.92" cy="102.95" r="1.0"/><circle cx="398.57" cy="102.74" r="1.0"/><circle cx="399.83" cy="102.65" r="1.0"/><circle cx="401.37" cy="102.76" r="1.0"/><circle cx="402.84" cy="102.71" r="1.0"/><circle cx="404.66" cy="102.88" r="1.0"/><circle cx="405.91" cy="102.66" r="1.0"/><circle cx="407.50" cy="102.95" r="1.0"/><circle cx="408.87" cy="102.72" r="1.0"/><circle cx="410.32" cy="102.57" r="1.0"/><circle cx="411.80" cy="102.89" r="1.0"/><circle cx="413.48" cy="102.96" r="1.0"/><circle cx="415.17" cy="102.65" r="1.0"/><circle cx="416.46" cy="102.78" r="1.0"/><circle cx="417.84" cy="102.85" r="1.0"/><circle cx="397.92" cy="104.18" r="1.0"/><circle cx="399.06" cy="103.89" r="1.0"/><circle cx="400.72" cy="103.88" r="1.0"/><circle cx="402.06" cy="104.26" r="1.0"/><circle cx="403.64" cy="103.92" r="1.0"/><circle cx="405.08" cy="104.18" r="1.0"/><circle cx="406.87" cy="103.89" r="1.0"/><circle cx="408.38" cy="104.02" r="1.0"/><circle cx="409.55" cy="104.07" r="1.0"/><circle cx="411.21" cy="103.90" r="1.0"/><circle cx="412.86" cy="103.98" r="1.0"/><circle cx="414.11" cy="104.11" r="1.0"/><circle cx="415.78" cy="104.04" r="1.0"/><circle cx="417.20" cy="103.89" r="1.0"/><circle cx="396.85" cy="105.47" r="1.0"/><circle cx="398.68" cy="105.39" r="1.0"/><circle cx="400.17" cy="105.56" r="1.0"/><circle cx="401.51" cy="105.25" r="1.0"/><circle cx="402.82" cy="105.52" r="1.0"/><circle cx="404.37" cy="105.23" r="1.0"/><circle cx="406.17" cy="105.25" r="1.0"/><circle cx="407.31" cy="105.44" r="1.0"/><circle cx="409.12" cy="105.54" r="1.0"/><circle cx="410.48" cy="105.48" r="1.0"/><circle cx="411.92" cy="105.53" r="1.0"/><circle cx="413.39" cy="105.50" r="1.0"/><circle cx="415.12" cy="105.30" r="1.0"/><circle cx="416.30" cy="105.25" r="1.0"/><circle cx="417.99" cy="105.47" r="1.0"/><circle cx="397.56" cy="106.56" r="1.0"/><circle cx="399.42" cy="106.67" r="1.0"/><circle cx="400.67" cy="106.57" r="1.0"/><circle cx="402.17" cy="106.71" r="1.0"/><circle cx="403.81" cy="106.83" r="1.0"/><circle cx="405.07" cy="106.65" r="1.0"/><circle cx="406.57" cy="106.84" r="1.0"/><circle cx="408.08" cy="106.46" r="1.0"/><circle cx="409.55" cy="106.65" r="1.0"/><circle cx="411.23" cy="106.86" r="1.0"/><circle cx="412.54" cy="106.62" r="1.0"/><circle cx="414.40" cy="106.55" r="1.0"/><circle cx="415.72" cy="106.64" r="1.0"/><circle cx="417.14" cy="106.72" r="1.0"/><circle cx="398.61" cy="108.09" r="1.0"/><circle cx="400.12" cy="107.89" r="1.0"/><circle cx="401.52" cy="107.84" r="1.0"/><circle cx="403.01" cy="107.96" r="1.0"/><circle cx="404.52" cy="107.98" r="1.0"/><circle cx="405.93" cy="107.94" r="1.0"/><circle cx="407.59" cy="107.78" r="1.0"/><circle cx="409.00" cy="107.99" r="1.0"/><circle cx="410.51" cy="107.80" r="1.0"/><circle cx="412.00" cy="107.88" r="1.0"/><circle cx="413.49" cy="108.15" r="1.0"/><circle cx="414.80" cy="108.03" r="1.0"/><circle cx="416.36" cy="107.91" r="1.0"/><circle cx="399.36" cy="109.24" r="1.0"/><circle cx="400.75" cy="109.12" r="1.0"/><circle cx="402.39" cy="109.33" r="1.0"/><circle cx="403.73" cy="109.11" r="1.0"/><circle cx="405.07" cy="109.44" r="1.0"/><circle cx="406.73" cy="109.33" r="1.0"/><circle cx="408.23" cy="109.16" r="1.0"/><circle cx="409.76" cy="109.21" r="1.0"/><circle cx="411.27" cy="109.32" r="1.0"/><circle cx="412.59" cy="109.36" r="1.0"/><circle cx="414.33" cy="109.39" r="1.0"/><circle cx="415.70" cy="109.29" r="1.0"/><circle cx="398.68" cy="110.40" r="1.0"/><circle cx="399.84" cy="110.48" r="1.0"/><circle cx="401.67" cy="110.71" r="1.0"/><circle cx="403.05" cy="110.66" r="1.0"/><circle cx="404.31" cy="110.59" r="1.0"/><circle cx="405.97" cy="110.67" r="1.0"/><circle cx="407.34" cy="110.73" r="1.0"/><circle cx="409.00" cy="110.68" r="1.0"/><circle cx="410.44" cy="110.72" r="1.0"/><circle cx="412.12" cy="110.75" r="1.0"/><circle cx="413.34" cy="110.51" r="1.0"/><circle cx="414.93" cy="110.52" r="1.0"/><circle cx="416.47" cy="110.69" r="1.0"/><circle cx="397.66" cy="111.70" r="1.0"/><circle cx="399.37" cy="111.76" r="1.0"/><circle cx="400.62" cy="111.94" r="1.0"/><circle cx="402.23" cy="111.83" r="1.0"/><circle cx="403.62" cy="111.93" r="1.0"/><circle cx="405.12" cy="111.69" r="1.0"/><circle cx="406.68" cy="112.00" r="1.0"/><circle cx="408.06" cy="111.87" r="1.0"/><circle cx="409.63" cy="111.93" r="1.0"/><circle cx="411.43" cy="111.74" r="1.0"/><circle cx="412.59" cy="111.70" r="1.0"/><circle cx="414.39" cy="111.96" r="1.0"/><circle cx="415.81" cy="111.75" r="1.0"/><circle cx="417.13" cy="111.76" r="1.0"/><circle cx="398.49" cy="113.06" r="1.0"/><circle cx="400.11" cy="113.28" r="1.0"/><circle cx="401.52" cy="113.00" r="1.0"/><circle cx="403.04" cy="113.03" r="1.0"/><circle cx="404.53" cy="113.34" r="1.0"/><circle cx="405.85" cy="113.27" r="1.0"/><circle cx="407.38" cy="113.13" r="1.0"/><circle cx="408.98" cy="113.35" r="1.0"/><circle cx="410.43" cy="113.30" r="1.0"/><circle cx="412.00" cy="113.18" r="1.0"/><circle cx="413.57" cy="113.32" r="1.0"/><circle cx="415.02" cy="113.14" r="1.0"/><circle cx="416.56" cy="113.35" r="1.0"/><circle cx="397.83" cy="114.57" r="1.0"/><circle cx="399.04" cy="114.39" r="1.0"/><circle cx="400.84" cy="114.39" r="1.0"/><circle cx="402.07" cy="114.55" r="1.0"/><circle cx="403.93" cy="114.37" r="1.0"/><circle cx="405.18" cy="114.43" r="1.0"/><circle cx="406.62" cy="114.43" r="1.0"/><circle cx="408.29" cy="114.59" r="1.0"/><circle cx="409.72" cy="114.64" r="1.0"/><circle cx="411.32" cy="114.49" r="1.0"/><circle cx="412.73" cy="114.50" r="1.0"/><circle cx="414.18" cy="114.43" r="1.0"/><circle cx="415.83" cy="114.54" r="1.0"/><circle cx="417.15" cy="114.56" r="1.0"/><circle cx="397.00" cy="115.66" r="1.0"/><circle cx="398.50" cy="115.92" r="1.0"/><circle cx="400.09" cy="115.72" r="1.0"/><circle cx="401.64" cy="115.68" r="1.0"/><circle cx="402.94" cy="115.63" r="1.0"/><circle cx="404.38" cy="115.93" r="1.0"/><circle cx="405.89" cy="115.62" r="1.0"/><circle cx="407.66" cy="115.69" r="1.0"/><circle cx="409.19" cy="115.69" r="1.0"/><circle cx="410.33" cy="115.57" r="1.0"/><circle cx="411.91" cy="115.65" r="1.0"/><circle cx="413.61" cy="115.73" r="1.0"/><circle cx="415.09" cy="115.59" r="1.0"/><circle cx="416.31" cy="115.64" r="1.0"/><circle cx="417.86" cy="115.92" r="1.0"/><circle cx="397.73" cy="116.88" r="1.0"/><circle cx="399.41" cy="117.05" r="1.0"/><circle cx="400.79" cy="117.08" r="1.0"/><circle cx="402.04" cy="116.94" r="1.0"/><circle cx="403.94" cy="116.93" r="1.0"/><circle cx="405.31" cy="117.08" r="1.0"/><circle cx="406.56" cy="116.95" r="1.0"/><circle cx="408.34" cy="117.12" r="1.0"/><circle cx="409.86" cy="116.85" r="1.0"/><circle cx="411.07" cy="116.90" r="1.0"/><circle cx="412.69" cy="117.21" r="1.0"/><circle cx="414.22" cy="117.24" r="1.0"/><circle cx="415.81" cy="117.20" r="1.0"/><circle cx="417.17" cy="117.03" r="1.0"/><circle cx="397.00" cy="118.32" r="1.0"/><circle cx="398.39" cy="118.43" r="1.0"/><circle cx="400.04" cy="118.45" r="1.0"/><circle cx="401.61" cy="118.35" r="1.0"/><circle cx="403.06" cy="118.45" r="1.0"/><circle cx="404.30" cy="118.16" r="1.0"/><circle cx="406.05" cy="118.19" r="1.0"/><circle cx="407.35" cy="118.28" r="1.0"/><circle cx="409.08" cy="118.21" r="1.0"/><circle cx="410.31" cy="118.31" r="1.0"/><circle cx="412.01" cy="118.26" r="1.0"/><circle cx="413.43" cy="118.53" r="1.0"/><circle cx="414.85" cy="118.45" r="1.0"/><circle cx="416.42" cy="118.46" r="1.0"/><circle cx="418.07" cy="118.35" r="1.0"/><circle cx="397.56" cy="119.71" r="1.0"/><circle cx="399.19" cy="119.51" r="1.0"/><circle cx="400.86" cy="119.49" r="1.0"/><circle cx="402.35" cy="119.75" r="1.0"/><circle cx="403.81" cy="119.54" r="1.0"/><circle cx="405.30" cy="119.50" r="1.0"/><circle cx="406.81" cy="119.47" r="1.0"/><circle cx="408.36" cy="119.77" r="1.0"/><circle cx="409.58" cy="119.79" r="1.0"/><circle cx="411.26" cy="119.52" r="1.0"/><circle cx="412.62" cy="119.46" r="1.0"/><circle cx="414.08" cy="119.49" r="1.0"/><circle cx="415.87" cy="119.49" r="1.0"/><circle cx="417.10" cy="119.59" r="1.0"/><circle cx="396.90" cy="120.89" r="1.0"/><circle cx="398.58" cy="120.83" r="1.0"/><circle cx="399.97" cy="120.87" r="1.0"/><circle cx="401.35" cy="121.08" r="1.0"/><circle cx="402.84" cy="121.01" r="1.0"/><circle cx="404.32" cy="120.78" r="1.0"/><circle cx="405.83" cy="120.96" r="1.0"/><circle cx="407.59" cy="121.03" r="1.0"/><circle cx="408.94" cy="120.79" r="1.0"/><circle cx="410.61" cy="120.84" r="1.0"/><circle cx="411.89" cy="120.90" r="1.0"/><circle cx="413.42" cy="120.81" r="1.0"/><circle cx="414.95" cy="121.08" r="1.0"/><circle cx="416.55" cy="120.94" r="1.0"/><circle cx="417.89" cy="120.79" r="1.0"/><circle cx="397.60" cy="122.32" r="1.0"/><circle cx="399.33" cy="122.15" r="1.0"/><circle cx="400.72" cy="122.14" r="1.0"/><circle cx="402.30" cy="122.23" r="1.0"/><circle cx="403.85" cy="122.31" r="1.0"/><circle cx="405.26" cy="122.22" r="1.0"/><circle cx="406.86" cy="122.36" r="1.0"/><circle cx="408.05" cy="122.08" r="1.0"/><circle cx="409.92" cy="122.20" r="1.0"/><circle cx="411.22" cy="122.24" r="1.0"/><circle cx="412.79" cy="122.13" r="1.0"/><circle cx="414.38" cy="122.23" r="1.0"/><circle cx="415.66" cy="122.21" r="1.0"/><circle cx="417.12" cy="122.29" r="1.0"/><circle cx="398.39" cy="123.35" r="1.0"/><circle cx="399.96" cy="123.50" r="1.0"/><circle cx="401.59" cy="123.45" r="1.0"/><circle cx="402.90" cy="123.49" r="1.0"/><circle cx="404.49" cy="123.60" r="1.0"/><circle cx="405.93" cy="123.45" r="1.0"/><circle cx="407.66" cy="123.69" r="1.0"/><circle cx="409.11" cy="123.51" r="1.0"/><circle cx="410.65" cy="123.74" r="1.0"/><circle cx="411.89" cy="123.37" r="1.0"/><circle cx="413.32" cy="123.69" r="1.0"/><circle cx="414.90" cy="123.39" r="1.0"/><circle cx="416.36" cy="123.42" r="1.0"/><circle cx="399.09" cy="124.68" r="1.0"/><circle cx="400.70" cy="124.75" r="1.0"/><circle cx="402.34" cy="124.66" r="1.0"/><circle cx="403.71" cy="124.86" r="1.0"/><circle cx="405.41" cy="124.67" r="1.0"/><circle cx="406.60" cy="124.67" r="1.0"/><circle cx="408.15" cy="124.84" r="1.0"/><circle cx="409.61" cy="124.70" r="1.0"/><circle cx="411.40" cy="124.76" r="1.0"/><circle cx="412.81" cy="124.99" r="1.0"/><circle cx="414.27" cy="124.74" r="1.0"/><circle cx="415.75" cy="124.67" r="1.0"/><circle cx="399.83" cy="126.23" r="1.0"/><circle cx="401.35" cy="126.06" r="1.0"/><circle cx="403.07" cy="126.09" r="1.0"/><circle cx="404.30" cy="126.14" r="1.0"/><circle cx="406.01" cy="126.20" r="1.0"/><circle cx="407.62" cy="126.29" r="1.0"/><circle cx="409.13" cy="126.01" r="1.0"/><circle cx="410.65" cy="126.08" r="1.0"/><circle cx="411.84" cy="126.18" r="1.0"/><circle cx="413.32" cy="126.06" r="1.0"/><circle cx="414.96" cy="126.04" r="1.0"/><circle cx="400.81" cy="127.41" r="1.0"/><circle cx="402.43" cy="127.51" r="1.0"/><circle cx="403.85" cy="127.43" r="1.0"/><circle cx="405.10" cy="127.44" r="1.0"/><circle cx="406.86" cy="127.58" r="1.0"/><circle cx="408.39" cy="127.51" r="1.0"/><circle cx="409.83" cy="127.44" r="1.0"/><circle cx="411.09" cy="127.62" r="1.0"/><circle cx="412.63" cy="127.57" r="1.0"/><circle cx="414.13" cy="127.63" r="1.0"/></g>
<g fill="#2a4a84"><circle cx="407.49" cy="30.20" r="0.9"/><circle cx="407.29" cy="52.50" r="0.9"/></g>
<g fill="#5ca3e2"><circle cx="434.26" cy="59.28" r="0.9"/><circle cx="435.77" cy="60.54" r="0.9"/><circle cx="435.02" cy="61.75" r="0.9"/><circle cx="436.50" cy="61.77" r="0.9"/><circle cx="435.51" cy="63.39" r="0.9"/><circle cx="434.94" cy="64.52" r="0.9"/><circle cx="436.42" cy="64.52" r="0.9"/><circle cx="433.99" cy="65.85" r="0.9"/><circle cx="435.56" cy="66.04" r="0.9"/><circle cx="437.28" cy="65.98" r="0.9"/><circle cx="433.42" cy="67.40" r="0.9"/><circle cx="436.28" cy="67.27" r="0.9"/><circle cx="432.51" cy="68.70" r="0.9"/><circle cx="434.17" cy="68.62" r="0.9"/><circle cx="435.44" cy="68.77" r="0.9"/><circle cx="437.24" cy="68.75" r="0.9"/><circle cx="438.69" cy="68.96" r="0.9"/><circle cx="433.11" cy="70.09" r="0.9"/><circle cx="434.75" cy="70.33" r="0.9"/><circle cx="436.40" cy="70.00" r="0.9"/><circle cx="438.14" cy="70.16" r="0.9"/><circle cx="432.42" cy="71.51" r="0.9"/><circle cx="434.19" cy="71.65" r="0.9"/><circle cx="435.44" cy="71.71" r="0.9"/><circle cx="438.82" cy="71.55" r="0.9"/><circle cx="433.04" cy="73.08" r="0.9"/><circle cx="434.80" cy="73.05" r="0.9"/><circle cx="436.50" cy="72.84" r="0.9"/><circle cx="437.82" cy="72.87" r="0.9"/><circle cx="439.57" cy="72.88" r="0.9"/><circle cx="430.90" cy="74.37" r="0.9"/><circle cx="432.55" cy="74.45" r="0.9"/><circle cx="434.18" cy="74.13" r="0.9"/><circle cx="435.56" cy="74.28" r="0.9"/><circle cx="437.08" cy="74.23" r="0.9"/><circle cx="440.59" cy="74.40" r="0.9"/><circle cx="431.55" cy="75.75" r="0.9"/><circle cx="433.16" cy="75.54" r="0.9"/><circle cx="434.96" cy="75.80" r="0.9"/><circle cx="436.55" cy="75.74" r="0.9"/><circle cx="438.18" cy="75.56" r="0.9"/><circle cx="439.56" cy="75.81" r="0.9"/><circle cx="430.81" cy="77.26" r="0.9"/><circle cx="432.54" cy="76.90" r="0.9"/><circle cx="433.88" cy="77.16" r="0.9"/><circle cx="435.68" cy="77.13" r="0.9"/><circle cx="437.32" cy="77.05" r="0.9"/><circle cx="438.84" cy="77.11" r="0.9"/><circle cx="440.43" cy="77.09" r="0.9"/><circle cx="430.10" cy="78.60" r="0.9"/><circle cx="431.77" cy="78.68" r="0.9"/><circle cx="433.18" cy="78.39" r="0.9"/><circle cx="434.73" cy="78.68" r="0.9"/><circle cx="436.59" cy="78.56" r="0.9"/><circle cx="437.86" cy="78.54" r="0.9"/><circle cx="439.69" cy="78.60" r="0.9"/><circle cx="441.23" cy="78.64" r="0.9"/><circle cx="429.08" cy="80.02" r="0.9"/><circle cx="430.79" cy="79.84" r="0.9"/><circle cx="432.37" cy="79.90" r="0.9"/><circle cx="434.01" cy="79.86" r="0.9"/><circle cx="435.66" cy="79.84" r="0.9"/><circle cx="437.39" cy="80.06" r="0.9"/><circle cx="439.00" cy="79.68" r="0.9"/><circle cx="440.58" cy="79.74" r="0.9"/><circle cx="442.22" cy="79.91" r="0.9"/><circle cx="429.83" cy="81.24" r="0.9"/><circle cx="431.74" cy="81.21" r="0.9"/><circle cx="433.18" cy="81.31" r="0.9"/><circle cx="434.69" cy="81.44" r="0.9"/><circle cx="436.41" cy="81.44" r="0.9"/><circle cx="438.03" cy="81.14" r="0.9"/><circle cx="439.72" cy="81.26" r="0.9"/><circle cx="441.30" cy="81.33" r="0.9"/><circle cx="429.37" cy="82.62" r="0.9"/><circle cx="430.97" cy="82.80" r="0.9"/><circle cx="432.57" cy="82.72" r="0.9"/><circle cx="434.05" cy="82.81" r="0.9"/><circle cx="435.68" cy="82.54" r="0.9"/><circle cx="437.40" cy="82.84" r="0.9"/><circle cx="438.94" cy="82.60" r="0.9"/><circle cx="440.47" cy="82.77" r="0.9"/><circle cx="442.01" cy="82.69" r="0.9"/><circle cx="428.54" cy="84.17" r="0.9"/><circle cx="429.95" cy="83.98" r="0.9"/><circle cx="433.29" cy="83.86" r="0.9"/><circle cx="434.71" cy="84.10" r="0.9"/><circle cx="436.48" cy="83.86" r="0.9"/><circle cx="438.10" cy="83.93" r="0.9"/><circle cx="439.52" cy="84.02" r="0.9"/><circle cx="441.11" cy="84.15" r="0.9"/><circle cx="429.23" cy="85.48" r="0.9"/><circle cx="432.43" cy="85.52" r="0.9"/><circle cx="434.10" cy="85.46" r="0.9"/><circle cx="435.44" cy="85.52" r="0.9"/><circle cx="437.16" cy="85.37" r="0.9"/><circle cx="438.86" cy="85.45" r="0.9"/><circle cx="440.36" cy="85.47" r="0.9"/><circle cx="428.22" cy="86.94" r="0.9"/><circle cx="430.16" cy="86.85" r="0.9"/><circle cx="431.45" cy="86.97" r="0.9"/><circle cx="433.07" cy="86.85" r="0.9"/><circle cx="434.78" cy="86.84" r="0.9"/><circle cx="436.36" cy="86.68" r="0.9"/><circle cx="438.15" cy="86.63" r="0.9"/><circle cx="439.56" cy="86.98" r="0.9"/><circle cx="441.41" cy="86.62" r="0.9"/><circle cx="442.68" cy="86.83" r="0.9"/><circle cx="427.61" cy="88.26" r="0.9"/><circle cx="429.22" cy="88.14" r="0.9"/><circle cx="430.91" cy="88.38" r="0.9"/><circle cx="435.68" cy="88.18" r="0.9"/><circle cx="437.34" cy="88.06" r="0.9"/><circle cx="440.33" cy="88.35" r="0.9"/><circle cx="442.14" cy="88.03" r="0.9"/><circle cx="443.48" cy="88.36" r="0.9"/><circle cx="426.80" cy="89.67" r="0.9"/><circle cx="428.47" cy="89.62" r="0.9"/><circle cx="430.19" cy="89.64" r="0.9"/><circle cx="431.71" cy="89.62" r="0.9"/><circle cx="433.39" cy="89.75" r="0.9"/><circle cx="434.77" cy="89.44" r="0.9"/><circle cx="436.45" cy="89.54" r="0.9"/><circle cx="438.01" cy="89.65" r="0.9"/><circle cx="439.68" cy="89.63" r="0.9"/><circle cx="441.42" cy="89.72" r="0.9"/><circle cx="442.65" cy="89.50" r="0.9"/><circle cx="444.56" cy="89.52" r="0.9"/><circle cx="427.71" cy="90.94" r="0.9"/><circle cx="430.86" cy="90.82" r="0.9"/><circle cx="432.50" cy="90.93" r="0.9"/><circle cx="434.17" cy="91.03" r="0.9"/><circle cx="435.57" cy="90.78" r="0.9"/><circle cx="437.38" cy="90.85" r="0.9"/><circle cx="438.65" cy="91.15" r="0.9"/><circle cx="440.25" cy="90.90" r="0.9"/><circle cx="442.11" cy="91.03" r="0.9"/><circle cx="443.71" cy="90.76" r="0.9"/><circle cx="426.88" cy="92.44" r="0.9"/><circle cx="428.60" cy="92.53" r="0.9"/><circle cx="429.95" cy="92.35" r="0.9"/><circle cx="431.60" cy="92.36" r="0.9"/><circle cx="434.78" cy="92.50" r="0.9"/><circle cx="436.23" cy="92.34" r="0.9"/><circle cx="437.94" cy="92.29" r="0.9"/><circle cx="439.66" cy="92.24" r="0.9"/><circle cx="441.08" cy="92.29" r="0.9"/><circle cx="442.82" cy="92.31" r="0.9"/><circle cx="444.34" cy="92.52" r="0.9"/><circle cx="425.97" cy="93.79" r="0.9"/><circle cx="427.58" cy="93.78" r="0.9"/><circle cx="429.02" cy="93.91" r="0.9"/><circle cx="430.92" cy="93.54" r="0.9"/><circle cx="432.43" cy="93.89" r="0.9"/><circle cx="433.94" cy="93.53" r="0.9"/><circle cx="435.72" cy="93.90" r="0.9"/><circle cx="437.29" cy="93.77" r="0.9"/><circle cx="438.96" cy="93.83" r="0.9"/><circle cx="440.25" cy="93.92" r="0.9"/><circle cx="442.18" cy="93.59" r="0.9"/><circle cx="443.77" cy="93.91" r="0.9"/><circle cx="445.38" cy="93.53" r="0.9"/><circle cx="426.72" cy="95.26" r="0.9"/><circle cx="428.39" cy="95.28" r="0.9"/><circle cx="429.88" cy="95.29" r="0.9"/><circle cx="431.82" cy="95.22" r="0.9"/><circle cx="433.38" cy="94.96" r="0.9"/><circle cx="434.73" cy="95.29" r="0.9"/><circle cx="436.52" cy="95.13" r="0.9"/><circle cx="437.90" cy="95.20" r="0.9"/><circle cx="439.77" cy="94.93" r="0.9"/><circle cx="441.36" cy="95.01" r="0.9"/><circle cx="442.85" cy="94.98" r="0.9"/><circle cx="444.59" cy="95.04" r="0.9"/><circle cx="426.17" cy="96.32" r="0.9"/><circle cx="427.59" cy="96.62" r="0.9"/><circle cx="429.40" cy="96.56" r="0.9"/><circle cx="430.65" cy="96.53" r="0.9"/><circle cx="432.50" cy="96.42" r="0.9"/><circle cx="433.88" cy="96.40" r="0.9"/><circle cx="435.53" cy="96.51" r="0.9"/><circle cx="437.33" cy="96.44" r="0.9"/><circle cx="440.39" cy="96.51" r="0.9"/><circle cx="442.02" cy="96.56" r="0.9"/><circle cx="443.50" cy="96.43" r="0.9"/><circle cx="445.12" cy="96.52" r="0.9"/><circle cx="426.79" cy="97.87" r="0.9"/><circle cx="428.28" cy="97.94" r="0.9"/><circle cx="430.19" cy="97.74" r="0.9"/><circle cx="431.73" cy="98.06" r="0.9"/><circle cx="433.38" cy="97.86" r="0.9"/><circle cx="434.72" cy="97.94" r="0.9"/><circle cx="436.39" cy="97.76" r="0.9"/><circle cx="437.95" cy="97.78" r="0.9"/><circle cx="439.73" cy="97.95" r="0.9"/><circle cx="441.27" cy="97.93" r="0.9"/><circle cx="442.69" cy="98.05" r="0.9"/><circle cx="444.53" cy="97.81" r="0.9"/><circle cx="426.18" cy="99.38" r="0.9"/><circle cx="427.77" cy="99.16" r="0.9"/><circle cx="429.41" cy="99.40" r="0.9"/><circle cx="430.96" cy="99.17" r="0.9"/><circle cx="432.55" cy="99.10" r="0.9"/><circle cx="433.87" cy="99.13" r="0.9"/><circle cx="435.43" cy="99.19" r="0.9"/><circle cx="437.03" cy="99.25" r="0.9"/><circle cx="438.99" cy="99.40" r="0.9"/><circle cx="440.24" cy="99.36" r="0.9"/><circle cx="442.02" cy="99.34" r="0.9"/><circle cx="443.53" cy="99.45" r="0.9"/><circle cx="445.37" cy="99.10" r="0.9"/><circle cx="426.86" cy="100.75" r="0.9"/><circle cx="428.25" cy="100.83" r="0.9"/><circle cx="431.70" cy="100.46" r="0.9"/><circle cx="433.09" cy="100.55" r="0.9"/><circle cx="434.96" cy="100.71" r="0.9"/><circle cx="437.86" cy="100.77" r="0.9"/><circle cx="439.62" cy="100.55" r="0.9"/><circle cx="441.12" cy="100.61" r="0.9"/><circle cx="442.91" cy="100.75" r="0.9"/><circle cx="444.38" cy="100.66" r="0.9"/><circle cx="427.45" cy="101.94" r="0.9"/><circle cx="429.27" cy="102.23" r="0.9"/><circle cx="430.85" cy="101.92" r="0.9"/><circle cx="432.33" cy="102.01" r="0.9"/><circle cx="433.94" cy="102.22" r="0.9"/><circle cx="435.58" cy="102.19" r="0.9"/><circle cx="437.03" cy="102.02" r="0.9"/><circle cx="438.89" cy="101.85" r="0.9"/><circle cx="440.49" cy="102.21" r="0.9"/><circle cx="442.13" cy="101.91" r="0.9"/><circle cx="443.61" cy="102.22" r="0.9"/><circle cx="426.83" cy="103.50" r="0.9"/><circle cx="428.54" cy="103.30" r="0.9"/><circle cx="430.06" cy="103.25" r="0.9"/><circle cx="431.59" cy="103.25" r="0.9"/><circle cx="433.19" cy="103.28" r="0.9"/><circle cx="434.89" cy="103.40" r="0.9"/><circle cx="436.30" cy="103.34" r="0.9"/><circle cx="438.00" cy="103.28" r="0.9"/><circle cx="439.80" cy="103.61" r="0.9"/><circle cx="441.38" cy="103.34" r="0.9"/><circle cx="442.83" cy="103.26" r="0.9"/><circle cx="444.39" cy="103.44" r="0.9"/><circle cx="427.57" cy="104.82" r="0.9"/><circle cx="429.30" cy="104.85" r="0.9"/><circle cx="430.80" cy="104.81" r="0.9"/><circle cx="432.31" cy="104.80" r="0.9"/><circle cx="434.21" cy="104.96" r="0.9"/><circle cx="435.56" cy="104.82" r="0.9"/><circle cx="437.26" cy="104.93" r="0.9"/><circle cx="439.00" cy="104.92" r="0.9"/><circle cx="440.40" cy="104.70" r="0.9"/><circle cx="442.03" cy="104.80" r="0.9"/><circle cx="443.42" cy="105.00" r="0.9"/><circle cx="426.75" cy="106.33" r="0.9"/><circle cx="428.53" cy="106.04" r="0.9"/><circle cx="429.84" cy="106.20" r="0.9"/><circle cx="431.53" cy="106.25" r="0.9"/><circle cx="433.18" cy="106.07" r="0.9"/><circle cx="434.97" cy="106.37" r="0.9"/><circle cx="437.96" cy="106.30" r="0.9"/><circle cx="439.60" cy="106.35" r="0.9"/><circle cx="441.32" cy="106.28" r="0.9"/><circle cx="442.67" cy="106.27" r="0.9"/><circle cx="444.34" cy="106.36" r="0.9"/><circle cx="427.58" cy="107.56" r="0.9"/><circle cx="429.32" cy="107.61" r="0.9"/><circle cx="430.71" cy="107.75" r="0.9"/><circle cx="432.50" cy="107.78" r="0.9"/><circle cx="433.84" cy="107.60" r="0.9"/><circle cx="435.60" cy="107.49" r="0.9"/><circle cx="437.16" cy="107.64" r="0.9"/><circle cx="438.96" cy="107.49" r="0.9"/><circle cx="440.61" cy="107.52" r="0.9"/><circle cx="441.95" cy="107.41" r="0.9"/><circle cx="443.73" cy="107.51" r="0.9"/><circle cx="428.55" cy="108.77" r="0.9"/><circle cx="429.89" cy="108.91" r="0.9"/><circle cx="431.70" cy="108.88" r="0.9"/><circle cx="433.07" cy="109.11" r="0.9"/><circle cx="434.93" cy="108.83" r="0.9"/><circle cx="436.46" cy="108.80" r="0.9"/><circle cx="438.07" cy="108.93" r="0.9"/><circle cx="439.64" cy="108.78" r="0.9"/><circle cx="441.41" cy="108.83" r="0.9"/><circle cx="442.85" cy="109.02" r="0.9"/><circle cx="427.49" cy="110.35" r="0.9"/><circle cx="429.23" cy="110.52" r="0.9"/><circle cx="431.02" cy="110.52" r="0.9"/><circle cx="432.42" cy="110.20" r="0.9"/><circle cx="434.04" cy="110.17" r="0.9"/><circle cx="435.70" cy="110.54" r="0.9"/><circle cx="437.36" cy="110.28" r="0.9"/><circle cx="440.59" cy="110.52" r="0.9"/><circle cx="442.14" cy="110.23" r="0.9"/><circle cx="443.50" cy="110.24" r="0.9"/><circle cx="428.54" cy="111.84" r="0.9"/><circle cx="429.84" cy="111.60" r="0.9"/><circle cx="431.68" cy="111.65" r="0.9"/><circle cx="433.24" cy="111.55" r="0.9"/><circle cx="436.40" cy="111.90" r="0.9"/><circle cx="439.78" cy="111.64" r="0.9"/><circle cx="441.05" cy="111.60" r="0.9"/><circle cx="442.73" cy="111.87" r="0.9"/><circle cx="429.05" cy="113.12" r="0.9"/><circle cx="430.62" cy="113.29" r="0.9"/><circle cx="432.27" cy="113.03" r="0.9"/><circle cx="433.99" cy="113.19" r="0.9"/><circle cx="435.64" cy="112.94" r="0.9"/><circle cx="437.13" cy="113.17" r="0.9"/><circle cx="439.00" cy="113.11" r="0.9"/><circle cx="440.36" cy="113.08" r="0.9"/><circle cx="442.09" cy="113.12" r="0.9"/><circle cx="430.11" cy="114.59" r="0.9"/><circle cx="431.62" cy="114.61" r="0.9"/><circle cx="434.68" cy="114.70" r="0.9"/><circle cx="436.58" cy="114.67" r="0.9"/><circle cx="438.14" cy="114.60" r="0.9"/><circle cx="441.12" cy="114.54" r="0.9"/><circle cx="429.36" cy="115.94" r="0.9"/><circle cx="430.92" cy="115.89" r="0.9"/><circle cx="432.61" cy="115.96" r="0.9"/><circle cx="434.14" cy="115.92" r="0.9"/><circle cx="435.44" cy="115.95" r="0.9"/><circle cx="437.26" cy="116.06" r="0.9"/><circle cx="438.91" cy="115.73" r="0.9"/><circle cx="440.58" cy="115.91" r="0.9"/><circle cx="441.94" cy="115.97" r="0.9"/><circle cx="430.03" cy="117.39" r="0.9"/><circle cx="431.67" cy="117.15" r="0.9"/><circle cx="433.28" cy="117.36" r="0.9"/><circle cx="434.83" cy="117.29" r="0.9"/><circle cx="436.29" cy="117.42" r="0.9"/><circle cx="437.94" cy="117.48" r="0.9"/><circle cx="439.55" cy="117.24" r="0.9"/><circle cx="441.12" cy="117.14" r="0.9"/><circle cx="430.65" cy="118.74" r="0.9"/><circle cx="432.37" cy="118.62" r="0.9"/><circle cx="435.53" cy="118.74" r="0.9"/><circle cx="438.81" cy="118.79" r="0.9"/><circle cx="440.51" cy="118.57" r="0.9"/><circle cx="431.54" cy="120.21" r="0.9"/><circle cx="433.15" cy="119.93" r="0.9"/><circle cx="434.64" cy="119.92" r="0.9"/><circle cx="436.23" cy="120.13" r="0.9"/><circle cx="438.21" cy="120.03" r="0.9"/><circle cx="439.66" cy="119.99" r="0.9"/><circle cx="432.38" cy="121.55" r="0.9"/><circle cx="433.93" cy="121.38" r="0.9"/><circle cx="435.56" cy="121.37" r="0.9"/><circle cx="437.08" cy="121.59" r="0.9"/><circle cx="438.94" cy="121.46" r="0.9"/><circle cx="433.27" cy="122.85" r="0.9"/><circle cx="434.89" cy="122.97" r="0.9"/><circle cx="436.35" cy="123.00" r="0.9"/><circle cx="438.08" cy="122.74" r="0.9"/><circle cx="434.18" cy="124.12" r="0.9"/><circle cx="435.53" cy="124.34" r="0.9"/><circle cx="437.38" cy="124.37" r="0.9"/><circle cx="434.86" cy="125.71" r="0.9"/><circle cx="436.61" cy="125.51" r="0.9"/></g>
<g fill="#2a6a4a"><circle cx="468.74" cy="44.85" r="1.0"/><circle cx="464.44" cy="63.51" r="1.0"/><circle cx="470.79" cy="46.88" r="1.0"/><circle cx="464.89" cy="70.37" r="1.0"/><circle cx="460.25" cy="58.35" r="1.0"/><circle cx="462.16" cy="38.43" r="1.0"/><circle cx="457.95" cy="61.54" r="1.0"/><circle cx="461.72" cy="69.81" r="1.0"/><circle cx="455.37" cy="47.54" r="1.0"/><circle cx="465.50" cy="77.90" r="1.0"/><circle cx="465.79" cy="73.04" r="1.0"/><circle cx="463.98" cy="76.09" r="1.0"/><circle cx="471.45" cy="44.45" r="1.0"/><circle cx="473.89" cy="43.26" r="1.0"/><circle cx="465.68" cy="56.29" r="1.0"/><circle cx="464.45" cy="51.91" r="1.0"/><circle cx="462.28" cy="72.68" r="1.0"/><circle cx="467.97" cy="68.27" r="1.0"/><circle cx="468.39" cy="61.36" r="1.0"/><circle cx="464.24" cy="43.16" r="1.0"/><circle cx="467.48" cy="74.95" r="1.0"/><circle cx="462.26" cy="54.56" r="1.0"/><circle cx="456.43" cy="39.37" r="1.0"/><circle cx="471.21" cy="66.81" r="1.0"/><circle cx="466.99" cy="47.11" r="1.0"/><circle cx="457.85" cy="45.47" r="1.0"/><circle cx="472.99" cy="52.12" r="1.0"/><circle cx="456.88" cy="50.47" r="1.0"/><circle cx="471.38" cy="40.91" r="1.0"/><circle cx="467.18" cy="65.43" r="1.0"/><circle cx="473.81" cy="54.46" r="1.0"/><circle cx="459.96" cy="53.21" r="1.0"/><circle cx="460.15" cy="71.53" r="1.0"/><circle cx="460.49" cy="48.54" r="1.0"/><circle cx="461.32" cy="41.06" r="1.0"/><circle cx="464.49" cy="67.91" r="1.0"/><circle cx="474.08" cy="48.31" r="1.0"/><circle cx="458.85" cy="39.42" r="1.0"/><circle cx="467.78" cy="71.58" r="1.0"/><circle cx="458.91" cy="68.80" r="1.0"/><circle cx="466.66" cy="39.23" r="1.0"/><circle cx="469.90" cy="63.86" r="1.0"/><circle cx="460.91" cy="61.50" r="1.0"/><circle cx="455.98" cy="42.07" r="1.0"/><circle cx="459.37" cy="64.32" r="1.0"/><circle cx="468.72" cy="53.30" r="1.0"/><circle cx="468.70" cy="50.61" r="1.0"/><circle cx="465.77" cy="59.17" r="1.0"/><circle cx="462.88" cy="58.84" r="1.0"/><circle cx="468.50" cy="57.83" r="1.0"/><circle cx="460.81" cy="66.25" r="1.0"/><circle cx="474.35" cy="45.78" r="1.0"/><circle cx="471.80" cy="56.33" r="1.0"/><circle cx="457.23" cy="59.32" r="1.0"/><circle cx="462.73" cy="45.75" r="1.0"/><circle cx="465.00" cy="40.98" r="1.0"/><circle cx="471.54" cy="59.47" r="1.0"/><circle cx="459.20" cy="43.18" r="1.0"/><circle cx="455.47" cy="53.93" r="1.0"/><circle cx="466.06" cy="61.60" r="1.0"/><circle cx="461.39" cy="51.28" r="1.0"/><circle cx="461.84" cy="75.07" r="1.0"/><circle cx="459.91" cy="55.87" r="1.0"/><circle cx="461.45" cy="43.66" r="1.0"/><circle cx="472.08" cy="62.75" r="1.0"/><circle cx="465.78" cy="44.93" r="1.0"/><circle cx="474.25" cy="40.79" r="1.0"/><circle cx="470.13" cy="69.67" r="1.0"/><circle cx="464.46" cy="48.26" r="1.0"/><circle cx="463.28" cy="61.23" r="1.0"/><circle cx="462.05" cy="63.94" r="1.0"/><circle cx="454.38" cy="44.46" r="1.0"/><circle cx="467.88" cy="41.39" r="1.0"/><circle cx="472.17" cy="38.65" r="1.0"/><circle cx="456.60" cy="56.24" r="1.0"/><circle cx="458.14" cy="48.21" r="1.0"/><circle cx="465.94" cy="53.67" r="1.0"/><circle cx="471.03" cy="53.59" r="1.0"/><circle cx="469.51" cy="38.33" r="1.0"/><circle cx="457.93" cy="54.41" r="1.0"/></g>
<g fill="#2a6a4a"><circle cx="464.75" cy="81.40" r="1.0"/><circle cx="463.75" cy="84.00" r="1.0"/><circle cx="465.75" cy="88.40" r="1.0"/><circle cx="464.75" cy="94.00" r="1.0"/><circle cx="464.75" cy="106.20" r="1.0"/><circle cx="464.25" cy="121.90" r="1.0"/><circle cx="465.25" cy="124.80" r="1.0"/></g>
<g fill="#4f2268"><circle cx="493.50" cy="35.68" r="1.0"/><circle cx="493.20" cy="36.86" r="1.0"/><circle cx="493.19" cy="38.05" r="1.0"/><circle cx="493.80" cy="39.32" r="1.0"/><circle cx="493.56" cy="40.66" r="1.0"/><circle cx="492.45" cy="42.12" r="1.0"/><circle cx="493.99" cy="42.08" r="1.0"/><circle cx="493.56" cy="43.18" r="1.0"/><circle cx="492.78" cy="44.65" r="1.0"/><circle cx="493.96" cy="44.77" r="1.0"/><circle cx="492.08" cy="45.75" r="1.0"/><circle cx="493.51" cy="46.06" r="1.0"/><circle cx="494.83" cy="45.71" r="1.0"/><circle cx="491.07" cy="47.37" r="1.0"/><circle cx="492.74" cy="47.34" r="1.0"/><circle cx="494.15" cy="47.37" r="1.0"/><circle cx="495.57" cy="47.10" r="1.0"/><circle cx="490.26" cy="48.53" r="1.0"/><circle cx="491.90" cy="48.34" r="1.0"/><circle cx="493.55" cy="48.42" r="1.0"/><circle cx="495.04" cy="48.52" r="1.0"/><circle cx="496.18" cy="48.59" r="1.0"/><circle cx="489.62" cy="49.70" r="1.0"/><circle cx="491.22" cy="49.71" r="1.0"/><circle cx="492.82" cy="49.95" r="1.0"/><circle cx="494.16" cy="49.86" r="1.0"/><circle cx="495.72" cy="49.97" r="1.0"/><circle cx="497.09" cy="49.67" r="1.0"/><circle cx="488.74" cy="50.93" r="1.0"/><circle cx="490.52" cy="51.10" r="1.0"/><circle cx="492.05" cy="51.21" r="1.0"/><circle cx="493.55" cy="50.93" r="1.0"/><circle cx="495.02" cy="51.15" r="1.0"/><circle cx="496.21" cy="50.92" r="1.0"/><circle cx="497.78" cy="51.10" r="1.0"/><circle cx="488.00" cy="52.31" r="1.0"/><circle cx="489.62" cy="52.34" r="1.0"/><circle cx="491.15" cy="52.39" r="1.0"/><circle cx="492.82" cy="52.49" r="1.0"/><circle cx="494.06" cy="52.26" r="1.0"/><circle cx="495.44" cy="52.48" r="1.0"/><circle cx="497.10" cy="52.54" r="1.0"/><circle cx="498.66" cy="52.56" r="1.0"/><circle cx="485.93" cy="53.63" r="1.0"/><circle cx="487.48" cy="53.61" r="1.0"/><circle cx="488.92" cy="53.69" r="1.0"/><circle cx="490.26" cy="53.72" r="1.0"/><circle cx="491.99" cy="53.67" r="1.0"/><circle cx="493.38" cy="53.70" r="1.0"/><circle cx="494.68" cy="53.59" r="1.0"/><circle cx="496.51" cy="53.67" r="1.0"/><circle cx="497.76" cy="53.59" r="1.0"/><circle cx="499.46" cy="53.50" r="1.0"/><circle cx="501.04" cy="53.73" r="1.0"/><circle cx="484.97" cy="55.15" r="1.0"/><circle cx="486.44" cy="55.00" r="1.0"/><circle cx="488.02" cy="55.04" r="1.0"/><circle cx="489.75" cy="54.96" r="1.0"/><circle cx="491.15" cy="54.86" r="1.0"/><circle cx="492.54" cy="54.92" r="1.0"/><circle cx="494.26" cy="55.18" r="1.0"/><circle cx="495.43" cy="55.09" r="1.0"/><circle cx="497.23" cy="55.12" r="1.0"/><circle cx="498.72" cy="54.90" r="1.0"/><circle cx="500.06" cy="55.00" r="1.0"/><circle cx="501.63" cy="54.90" r="1.0"/><circle cx="482.78" cy="56.36" r="1.0"/><circle cx="484.26" cy="56.23" r="1.0"/><circle cx="486.07" cy="56.40" r="1.0"/><circle cx="487.30" cy="56.26" r="1.0"/><circle cx="488.84" cy="56.29" r="1.0"/><circle cx="490.24" cy="56.31" r="1.0"/><circle cx="491.89" cy="56.21" r="1.0"/><circle cx="493.53" cy="56.47" r="1.0"/><circle cx="494.93" cy="56.15" r="1.0"/><circle cx="496.49" cy="56.25" r="1.0"/><circle cx="497.98" cy="56.38" r="1.0"/><circle cx="499.30" cy="56.18" r="1.0"/><circle cx="500.76" cy="56.09" r="1.0"/><circle cx="502.38" cy="56.26" r="1.0"/><circle cx="503.83" cy="56.15" r="1.0"/><circle cx="483.46" cy="57.52" r="1.0"/><circle cx="485.06" cy="57.77" r="1.0"/><circle cx="486.55" cy="57.73" r="1.0"/><circle cx="488.14" cy="57.44" r="1.0"/><circle cx="489.76" cy="57.74" r="1.0"/><circle cx="491.24" cy="57.70" r="1.0"/><circle cx="492.52" cy="57.73" r="1.0"/><circle cx="494.10" cy="57.49" r="1.0"/><circle cx="495.59" cy="57.75" r="1.0"/><circle cx="497.06" cy="57.40" r="1.0"/><circle cx="498.45" cy="57.65" r="1.0"/><circle cx="500.10" cy="57.49" r="1.0"/><circle cx="501.79" cy="57.76" r="1.0"/><circle cx="503.02" cy="57.47" r="1.0"/><circle cx="484.53" cy="59.06" r="1.0"/><circle cx="485.93" cy="58.83" r="1.0"/><circle cx="487.26" cy="58.97" r="1.0"/><circle cx="489.06" cy="58.88" r="1.0"/><circle cx="490.44" cy="58.73" r="1.0"/><circle cx="491.99" cy="58.77" r="1.0"/><circle cx="493.37" cy="59.02" r="1.0"/><circle cx="494.78" cy="59.06" r="1.0"/><circle cx="496.52" cy="58.88" r="1.0"/><circle cx="497.84" cy="59.07" r="1.0"/><circle cx="499.56" cy="58.76" r="1.0"/><circle cx="500.87" cy="58.76" r="1.0"/><circle cx="502.19" cy="58.73" r="1.0"/><circle cx="484.97" cy="60.10" r="1.0"/><circle cx="486.53" cy="60.11" r="1.0"/><circle cx="488.04" cy="60.21" r="1.0"/><circle cx="489.44" cy="60.20" r="1.0"/><circle cx="491.30" cy="60.26" r="1.0"/><circle cx="492.68" cy="60.34" r="1.0"/><circle cx="494.24" cy="60.02" r="1.0"/><circle cx="495.62" cy="60.11" r="1.0"/><circle cx="497.13" cy="60.37" r="1.0"/><circle cx="498.75" cy="60.03" r="1.0"/><circle cx="499.99" cy="60.13" r="1.0"/><circle cx="501.81" cy="60.00" r="1.0"/><circle cx="485.72" cy="61.58" r="1.0"/><circle cx="487.26" cy="61.60" r="1.0"/><circle cx="489.03" cy="61.39" r="1.0"/><circle cx="490.22" cy="61.32" r="1.0"/><circle cx="491.80" cy="61.54" r="1.0"/><circle cx="493.31" cy="61.29" r="1.0"/><circle cx="494.68" cy="61.46" r="1.0"/><circle cx="496.39" cy="61.41" r="1.0"/><circle cx="497.99" cy="61.63" r="1.0"/><circle cx="499.44" cy="61.40" r="1.0"/><circle cx="500.97" cy="61.52" r="1.0"/><circle cx="486.73" cy="62.61" r="1.0"/><circle cx="487.95" cy="62.64" r="1.0"/><circle cx="489.66" cy="62.66" r="1.0"/><circle cx="491.10" cy="62.61" r="1.0"/><circle cx="492.58" cy="62.60" r="1.0"/><circle cx="494.10" cy="62.88" r="1.0"/><circle cx="495.53" cy="62.78" r="1.0"/><circle cx="496.98" cy="62.87" r="1.0"/><circle cx="498.76" cy="62.84" r="1.0"/><circle cx="500.25" cy="62.66" r="1.0"/><circle cx="487.26" cy="64.09" r="1.0"/><circle cx="488.85" cy="64.20" r="1.0"/><circle cx="490.26" cy="63.93" r="1.0"/><circle cx="491.70" cy="63.98" r="1.0"/><circle cx="493.51" cy="64.03" r="1.0"/><circle cx="494.90" cy="64.26" r="1.0"/><circle cx="496.43" cy="64.28" r="1.0"/><circle cx="497.92" cy="64.20" r="1.0"/><circle cx="499.25" cy="64.19" r="1.0"/><circle cx="488.19" cy="65.42" r="1.0"/><circle cx="489.66" cy="65.55" r="1.0"/><circle cx="490.94" cy="65.23" r="1.0"/><circle cx="492.72" cy="65.54" r="1.0"/><circle cx="493.93" cy="65.33" r="1.0"/><circle cx="495.59" cy="65.29" r="1.0"/><circle cx="497.22" cy="65.42" r="1.0"/><circle cx="498.56" cy="65.37" r="1.0"/><circle cx="488.96" cy="66.58" r="1.0"/><circle cx="490.36" cy="66.51" r="1.0"/><circle cx="491.88" cy="66.60" r="1.0"/><circle cx="493.47" cy="66.58" r="1.0"/><circle cx="494.88" cy="66.48" r="1.0"/><circle cx="496.29" cy="66.54" r="1.0"/><circle cx="497.77" cy="66.49" r="1.0"/><circle cx="487.95" cy="67.92" r="1.0"/><circle cx="489.51" cy="67.84" r="1.0"/><circle cx="491.16" cy="68.02" r="1.0"/><circle cx="492.80" cy="67.79" r="1.0"/><circle cx="494.19" cy="67.94" r="1.0"/><circle cx="495.65" cy="68.01" r="1.0"/><circle cx="496.95" cy="67.81" r="1.0"/><circle cx="498.54" cy="68.01" r="1.0"/><circle cx="488.69" cy="69.40" r="1.0"/><circle cx="490.31" cy="69.37" r="1.0"/><circle cx="492.02" cy="69.45" r="1.0"/><circle cx="493.27" cy="69.26" r="1.0"/><circle cx="494.94" cy="69.32" r="1.0"/><circle cx="496.27" cy="69.30" r="1.0"/><circle cx="498.03" cy="69.20" r="1.0"/><circle cx="489.68" cy="70.66" r="1.0"/><circle cx="491.23" cy="70.43" r="1.0"/><circle cx="492.44" cy="70.67" r="1.0"/><circle cx="493.97" cy="70.52" r="1.0"/><circle cx="495.51" cy="70.76" r="1.0"/><circle cx="497.08" cy="70.57" r="1.0"/><circle cx="490.31" cy="71.73" r="1.0"/><circle cx="492.02" cy="72.06" r="1.0"/><circle cx="493.50" cy="71.84" r="1.0"/><circle cx="495.00" cy="72.03" r="1.0"/><circle cx="496.39" cy="71.70" r="1.0"/><circle cx="491.12" cy="73.21" r="1.0"/><circle cx="492.57" cy="73.03" r="1.0"/><circle cx="494.24" cy="73.08" r="1.0"/><circle cx="495.77" cy="73.08" r="1.0"/><circle cx="492.00" cy="74.27" r="1.0"/><circle cx="493.34" cy="74.54" r="1.0"/><circle cx="494.94" cy="74.29" r="1.0"/><circle cx="491.18" cy="75.82" r="1.0"/><circle cx="492.53" cy="75.71" r="1.0"/><circle cx="494.02" cy="75.67" r="1.0"/><circle cx="495.73" cy="75.90" r="1.0"/><circle cx="492.06" cy="77.01" r="1.0"/><circle cx="493.51" cy="77.17" r="1.0"/><circle cx="494.92" cy="77.22" r="1.0"/><circle cx="492.63" cy="78.39" r="1.0"/><circle cx="493.95" cy="78.27" r="1.0"/><circle cx="493.33" cy="79.75" r="1.0"/><circle cx="493.60" cy="80.94" r="1.0"/></g>
<g fill="#4f2268"><circle cx="493.38" cy="82.80" r="1.0"/><circle cx="493.08" cy="87.00" r="1.0"/><circle cx="493.68" cy="95.50" r="1.0"/><circle cx="493.38" cy="97.00" r="1.0"/><circle cx="493.08" cy="102.60" r="1.0"/><circle cx="493.68" cy="105.30" r="1.0"/><circle cx="493.38" cy="109.50" r="1.0"/><circle cx="493.38" cy="127.80" r="1.0"/></g>
<text x="8.30" y="232.90" font-size="11.8" text-anchor="start" fill="#000" font-weight="bold" stroke="#000" stroke-width="0.35">C</text>
<rect x="105.80" y="236.30" width="3.90" height="3.90" fill="#e07a8e"/>
<text x="113.50" y="240.20" font-size="5.5" text-anchor="start" fill="#222" textLength="18.40" lengthAdjust="spacingAndGlyphs">Positive</text>
<rect x="141.50" y="236.30" width="3.90" height="3.90" fill="#94acd4"/>
<text x="148.80" y="240.20" font-size="5.5" text-anchor="start" fill="#222" textLength="21.00" lengthAdjust="spacingAndGlyphs">Negative</text>
<path d="M44.5,287.3 H82.4 C100.95,287.3 100.95,289.2 119.5,289.2 H156.7 C175.1,289.2 175.1,288.2 193.5,288.2 H231.4 V315.6 H193.5 C175.1,315.6 175.1,315.6 156.7,315.6 H119.5 C100.95,315.6 100.95,315.6 82.4,315.6 H44.5 Z" fill="#53709d" fill-opacity="0.6"/>
<path d="M44.5,315.6 H82.4 C100.95,315.6 100.95,315.6 119.5,315.6 H156.7 C175.1,315.6 175.1,315.6 193.5,315.6 H231.4 V336.2 H193.5 C175.1,336.2 175.1,335.8 156.7,335.8 H119.5 C100.95,335.8 100.95,336.2 82.4,336.2 H44.5 Z" fill="#53709d" fill-opacity="0.6"/>
<path d="M44.5,315.6 H82.4 C100.95,315.6 100.95,315.6 119.5,315.6 H156.7 C175.1,315.6 175.1,315.6 193.5,315.6 H231.4" fill="none" stroke="#6e8cc4" stroke-width="0.5"/>
<path d="M44.5,287.3 H82.4 C100.95,287.3 100.95,289.2 119.5,289.2 H156.7 C175.1,289.2 175.1,288.2 193.5,288.2 H231.4" fill="none" stroke="#6e8cc4" stroke-width="0.5"/>
<path d="M44.5,249.2 H82.4 C100.95,249.2 100.95,249.3 119.5,249.3 H156.7 C175.1,249.3 175.1,249.2 193.5,249.2 H231.4 V252.6 H193.5 C175.1,252.6 175.1,252.7 156.7,252.7 H119.5 C100.95,252.7 100.95,252.6 82.4,252.6 H44.5 Z" fill="#b72b4d" fill-opacity="0.6"/>
<path d="M44.5,252.6 H82.4 C100.95,252.6 100.95,252.7 119.5,252.7 H156.7 C175.1,252.7 175.1,252.6 193.5,252.6 H231.4 V256.0 H193.5 C175.1,256.0 175.1,256.1 156.7,256.1 H119.5 C100.95,256.1 100.95,256.0 82.4,256.0 H44.5 Z" fill="#b72b4d" fill-opacity="0.6"/>
<path d="M44.5,267.8 H82.4 C100.95,267.8 100.95,256.1 119.5,256.1 H156.7 C175.1,256.1 175.1,256.0 193.5,256.0 H231.4 V259.8 H193.5 C175.1,259.8 175.1,259.9 156.7,259.9 H119.5 C100.95,259.9 100.95,271.2 82.4,271.2 H44.5 Z" fill="#b72b4d" fill-opacity="0.6"/>
<path d="M44.5,271.2 H82.4 C100.95,271.2 100.95,259.9 119.5,259.9 H156.7 C175.1,259.9 175.1,259.8 193.5,259.8 H231.4 V263.5 H193.5 C175.1,263.5 175.1,263.6 156.7,263.6 H119.5 C100.95,263.6 100.95,274.5 82.4,274.5 H44.5 Z" fill="#b72b4d" fill-opacity="0.6"/>
<path d="M44.5,256.0 H82.4 C100.95,256.0 100.95,263.6 119.5,263.6 H156.7 C175.1,263.6 175.1,263.5 193.5,263.5 H231.4 V266.6 H193.5 C175.1,266.6 175.1,265.6 156.7,265.6 H119.5 C100.95,265.6 100.95,257.8 82.4,257.8 H44.5 Z" fill="#b72b4d" fill-opacity="0.6"/>
<path d="M44.5,278.3 H82.4 C100.95,278.3 100.95,265.6 119.5,265.6 H156.7 C175.1,265.6 175.1,270.4 193.5,270.4 H231.4 V273.9 H193.5 C175.1,273.9 175.1,270.1 156.7,270.1 H119.5 C100.95,270.1 100.95,282.8 82.4,282.8 H44.5 Z" fill="#b72b4d" fill-opacity="0.6"/>
<path d="M44.5,282.8 H82.4 C100.95,282.8 100.95,270.1 119.5,270.1 H156.7 C175.1,270.1 175.1,273.9 193.5,273.9 H231.4 V277.4 H193.5 C175.1,277.4 175.1,274.6 156.7,274.6 H119.5 C100.95,274.6 100.95,287.3 82.4,287.3 H44.5 Z" fill="#b72b4d" fill-opacity="0.6"/>
<path d="M44.5,249.2 H82.4 C100.95,249.2 100.95,249.3 119.5,249.3 H156.7 C175.1,249.3 175.1,249.2 193.5,249.2 H231.4" fill="none" stroke="#c8304f" stroke-width="0.6" stroke-opacity="0.85"/>
<path d="M44.5,252.6 H82.4 C100.95,252.6 100.95,252.7 119.5,252.7 H156.7 C175.1,252.7 175.1,252.6 193.5,252.6 H231.4" fill="none" stroke="#c8304f" stroke-width="0.4" stroke-opacity="0.6"/>
<path d="M44.5,252.6 H82.4 C100.95,252.6 100.95,252.7 119.5,252.7 H156.7 C175.1,252.7 175.1,252.6 193.5,252.6 H231.4" fill="none" stroke="#c8304f" stroke-width="0.6" stroke-opacity="0.85"/>
<path d="M44.5,256.0 H82.4 C100.95,256.0 100.95,256.1 119.5,256.1 H156.7 C175.1,256.1 175.1,256.0 193.5,256.0 H231.4" fill="none" stroke="#c8304f" stroke-width="0.4" stroke-opacity="0.6"/>
<path d="M44.5,267.8 H82.4 C100.95,267.8 100.95,256.1 119.5,256.1 H156.7 C175.1,256.1 175.1,256.0 193.5,256.0 H231.4" fill="none" stroke="#c8304f" stroke-width="0.6" stroke-opacity="0.85"/>
<path d="M44.5,271.2 H82.4 C100.95,271.2 100.95,259.9 119.5,259.9 H156.7 C175.1,259.9 175.1,259.8 193.5,259.8 H231.4" fill="none" stroke="#c8304f" stroke-width="0.4" stroke-opacity="0.6"/>
<path d="M44.5,271.2 H82.4 C100.95,271.2 100.95,259.9 119.5,259.9 H156.7 C175.1,259.9 175.1,259.8 193.5,259.8 H231.4" fill="none" stroke="#c8304f" stroke-width="0.6" stroke-opacity="0.85"/>
<path d="M44.5,274.5 H82.4 C100.95,274.5 100.95,263.6 119.5,263.6 H156.7 C175.1,263.6 175.1,263.5 193.5,263.5 H231.4" fill="none" stroke="#c8304f" stroke-width="0.4" stroke-opacity="0.6"/>
<path d="M44.5,256.0 H82.4 C100.95,256.0 100.95,263.6 119.5,263.6 H156.7 C175.1,263.6 175.1,263.5 193.5,263.5 H231.4" fill="none" stroke="#c8304f" stroke-width="0.6" stroke-opacity="0.85"/>
<path d="M44.5,257.8 H82.4 C100.95,257.8 100.95,265.6 119.5,265.6 H156.7 C175.1,265.6 175.1,266.6 193.5,266.6 H231.4" fill="none" stroke="#c8304f" stroke-width="0.4" stroke-opacity="0.6"/>
<path d="M44.5,278.3 H82.4 C100.95,278.3 100.95,265.6 119.5,265.6 H156.7 C175.1,265.6 175.1,270.4 193.5,270.4 H231.4" fill="none" stroke="#c8304f" stroke-width="0.6" stroke-opacity="0.85"/>
<path d="M44.5,282.8 H82.4 C100.95,282.8 100.95,270.1 119.5,270.1 H156.7 C175.1,270.1 175.1,273.9 193.5,273.9 H231.4" fill="none" stroke="#c8304f" stroke-width="0.4" stroke-opacity="0.6"/>
<path d="M44.5,282.8 H82.4 C100.95,282.8 100.95,270.1 119.5,270.1 H156.7 C175.1,270.1 175.1,273.9 193.5,273.9 H231.4" fill="none" stroke="#c8304f" stroke-width="0.6" stroke-opacity="0.85"/>
<path d="M44.5,287.3 H82.4 C100.95,287.3 100.95,274.6 119.5,274.6 H156.7 C175.1,274.6 175.1,277.4 193.5,277.4 H231.4" fill="none" stroke="#c8304f" stroke-width="0.4" stroke-opacity="0.6"/>
<path d="M44.5,257.8 H82.4 C100.95,257.8 100.95,274.6 119.5,274.6 H156.7 C175.1,274.6 175.1,266.6 193.5,266.6 H231.4 V270.4 H193.5 C175.1,270.4 175.1,278.4 156.7,278.4 H119.5 C100.95,278.4 100.95,261.6 82.4,261.6 H44.5 Z" fill="#53709d" fill-opacity="0.6"/>
<path d="M44.5,261.6 H82.4 C100.95,261.6 100.95,278.4 119.5,278.4 H156.7 C175.1,278.4 175.1,277.4 193.5,277.4 H231.4 V284.0 H193.5 C175.1,284.0 175.1,285.0 156.7,285.0 H119.5 C100.95,285.0 100.95,267.8 82.4,267.8 H44.5 Z" fill="#53709d" fill-opacity="0.6"/>
<path d="M44.5,274.5 H82.4 C100.95,274.5 100.95,285.0 119.5,285.0 H156.7 C175.1,285.0 175.1,284.0 193.5,284.0 H231.4 V288.2 H193.5 C175.1,288.2 175.1,289.2 156.7,289.2 H119.5 C100.95,289.2 100.95,278.3 82.4,278.3 H44.5 Z" fill="#53709d" fill-opacity="0.6"/>
<path d="M44.5,257.8 H82.4 C100.95,257.8 100.95,274.6 119.5,274.6 H156.7 C175.1,274.6 175.1,266.6 193.5,266.6 H231.4" fill="none" stroke="#4a74bc" stroke-width="0.5" stroke-opacity="0.9"/>
<path d="M44.5,261.6 H82.4 C100.95,261.6 100.95,278.4 119.5,278.4 H156.7 C175.1,278.4 175.1,270.4 193.5,270.4 H231.4" fill="none" stroke="#4a74bc" stroke-width="0.5" stroke-opacity="0.9"/>
<path d="M44.5,261.6 H82.4 C100.95,261.6 100.95,278.4 119.5,278.4 H156.7 C175.1,278.4 175.1,277.4 193.5,277.4 H231.4" fill="none" stroke="#4a74bc" stroke-width="0.5" stroke-opacity="0.9"/>
<path d="M44.5,267.8 H82.4 C100.95,267.8 100.95,285.0 119.5,285.0 H156.7 C175.1,285.0 175.1,284.0 193.5,284.0 H231.4" fill="none" stroke="#4a74bc" stroke-width="0.5" stroke-opacity="0.9"/>
<path d="M44.5,274.5 H82.4 C100.95,274.5 100.95,285.0 119.5,285.0 H156.7 C175.1,285.0 175.1,284.0 193.5,284.0 H231.4" fill="none" stroke="#4a74bc" stroke-width="0.5" stroke-opacity="0.9"/>
<path d="M44.5,278.3 H82.4 C100.95,278.3 100.95,289.2 119.5,289.2 H156.7 C175.1,289.2 175.1,288.2 193.5,288.2 H231.4" fill="none" stroke="#4a74bc" stroke-width="0.5" stroke-opacity="0.9"/>
<path d="M82.4,315.6 C100.95,315.6 100.95,275.2 119.5,275.2" fill="none" stroke="#4f78c0" stroke-width="0.7"/>
<rect x="44.5" y="249.2" width="37.90" height="18.60" fill="#fff" fill-opacity="0.44" stroke="#333" stroke-width="0.9"/>
<rect x="44.5" y="267.8" width="37.90" height="10.50" fill="#fff" fill-opacity="0.44" stroke="#333" stroke-width="0.9"/>
<rect x="44.5" y="278.3" width="37.90" height="9.00" fill="#fff" fill-opacity="0.44" stroke="#333" stroke-width="0.9"/>
<rect x="44.5" y="287.3" width="37.90" height="28.30" fill="#fff" fill-opacity="0.44" stroke="#333" stroke-width="0.9"/>
<rect x="44.5" y="315.6" width="37.90" height="20.60" fill="#fff" fill-opacity="0.44" stroke="#333" stroke-width="0.9"/>
<rect x="119.5" y="249.3" width="37.20" height="25.30" fill="#fff" fill-opacity="0.44" stroke="#333" stroke-width="0.9"/>
<rect x="119.5" y="274.6" width="37.20" height="61.20" fill="#fff" fill-opacity="0.44" stroke="#333" stroke-width="0.9"/>
<rect x="193.5" y="249.2" width="37.90" height="21.20" fill="#fff" fill-opacity="0.44" stroke="#333" stroke-width="0.9"/>
<rect x="193.5" y="270.4" width="37.90" height="65.80" fill="#fff" fill-opacity="0.44" stroke="#333" stroke-width="0.9"/>
<text x="63.45" y="260.30" font-size="5.5" text-anchor="middle" fill="#000" font-weight="bold" textLength="26.50" lengthAdjust="spacingAndGlyphs" stroke="#000" stroke-width="0.22">KMT2A−R</text>
<text x="63.45" y="274.60" font-size="5.5" text-anchor="middle" fill="#000" font-weight="bold" textLength="17.10" lengthAdjust="spacingAndGlyphs" stroke="#000" stroke-width="0.22">t(8;21)</text>
<text x="63.45" y="284.40" font-size="5.5" text-anchor="middle" fill="#000" font-weight="bold" textLength="17.50" lengthAdjust="spacingAndGlyphs" stroke="#000" stroke-width="0.22">inv(16)</text>
<text x="63.45" y="300.00" font-size="5.5" text-anchor="middle" fill="#000" font-weight="bold" stroke="#000" stroke-width="0.22">Other</text>
<text x="63.45" y="306.60" font-size="5.5" text-anchor="middle" fill="#000" font-weight="bold" stroke="#000" stroke-width="0.22">Karyotype</text>
<text x="63.45" y="324.50" font-size="5.5" text-anchor="middle" fill="#000" font-weight="bold" stroke="#000" stroke-width="0.22">Normal</text>
<text x="63.45" y="331.10" font-size="5.5" text-anchor="middle" fill="#000" font-weight="bold" stroke="#000" stroke-width="0.22">Karyotype</text>
<text x="138.10" y="264.00" font-size="5.5" text-anchor="middle" fill="#000" font-weight="bold" stroke="#000" stroke-width="0.22">Positive</text>
<text x="138.10" y="308.00" font-size="5.5" text-anchor="middle" fill="#000" font-weight="bold" stroke="#000" stroke-width="0.22">Negative</text>
<text x="212.45" y="262.00" font-size="5.5" text-anchor="middle" fill="#000" font-weight="bold" stroke="#000" stroke-width="0.22">Positive</text>
<text x="212.45" y="305.20" font-size="5.5" text-anchor="middle" fill="#000" font-weight="bold" stroke="#000" stroke-width="0.22">Negative</text>
<line x1="38.80" y1="249.00" x2="42.10" y2="249.00" stroke="#1a1a1a" stroke-width="0.9"/>
<text x="35.20" y="251.40" font-size="6.3" text-anchor="end" fill="#222" stroke="#222" stroke-width="0.06">100</text>
<line x1="38.80" y1="270.90" x2="42.10" y2="270.90" stroke="#1a1a1a" stroke-width="0.9"/>
<text x="35.20" y="273.30" font-size="6.3" text-anchor="end" fill="#222" stroke="#222" stroke-width="0.06">75</text>
<line x1="38.80" y1="292.70" x2="42.10" y2="292.70" stroke="#1a1a1a" stroke-width="0.9"/>
<text x="35.20" y="295.10" font-size="6.3" text-anchor="end" fill="#222" stroke="#222" stroke-width="0.06">50</text>
<line x1="38.80" y1="314.60" x2="42.10" y2="314.60" stroke="#1a1a1a" stroke-width="0.9"/>
<text x="35.20" y="317.00" font-size="6.3" text-anchor="end" fill="#222" stroke="#222" stroke-width="0.06">25</text>
<line x1="38.80" y1="336.40" x2="42.10" y2="336.40" stroke="#1a1a1a" stroke-width="0.9"/>
<text x="35.20" y="338.80" font-size="6.3" text-anchor="end" fill="#222" stroke="#222" stroke-width="0.06">0</text>
<line x1="42.10" y1="245.00" x2="42.10" y2="341.00" stroke="#1a1a1a" stroke-width="1.1"/>
<line x1="41.60" y1="340.40" x2="233.80" y2="340.40" stroke="#1a1a1a" stroke-width="1.4"/>
<line x1="63.30" y1="340.40" x2="63.30" y2="343.60" stroke="#1a1a1a" stroke-width="0.9"/>
<line x1="137.60" y1="340.40" x2="137.60" y2="343.60" stroke="#1a1a1a" stroke-width="0.9"/>
<line x1="212.30" y1="340.40" x2="212.30" y2="343.60" stroke="#1a1a1a" stroke-width="0.9"/>
<text transform="translate(19.60,317.70) rotate(-90)" font-size="7.2" text-anchor="start" fill="#111" textLength="50.90" lengthAdjust="spacingAndGlyphs" stroke="#111" stroke-width="0.12">Percent of patients</text>
<text x="63.30" y="352.80" font-size="6.3" text-anchor="middle" fill="#222" textLength="37.50" lengthAdjust="spacingAndGlyphs" stroke="#222" stroke-width="0.07">Disease Type</text>
<text x="137.90" y="352.80" font-size="6.3" text-anchor="middle" fill="#222" textLength="51.80" lengthAdjust="spacingAndGlyphs" stroke="#222" stroke-width="0.07">MSLN Expression</text>
<text x="137.70" y="360.00" font-size="6.3" text-anchor="middle" fill="#222" textLength="36.40" lengthAdjust="spacingAndGlyphs" stroke="#222" stroke-width="0.07">At Diagnosis</text>
<text x="212.40" y="352.80" font-size="6.3" text-anchor="middle" fill="#222" textLength="51.40" lengthAdjust="spacingAndGlyphs" stroke="#222" stroke-width="0.07">MSLN Expression</text>
<text x="212.30" y="360.00" font-size="6.3" text-anchor="middle" fill="#222" textLength="31.00" lengthAdjust="spacingAndGlyphs" stroke="#222" stroke-width="0.07">At Relapse</text>
<text x="267.70" y="231.80" font-size="11.8" text-anchor="start" fill="#000" font-weight="bold" stroke="#000" stroke-width="0.35">D</text>
<line x1="301.50" y1="248.20" x2="304.60" y2="248.20" stroke="#1a1a1a" stroke-width="0.9"/>
<text x="297.70" y="250.50" font-size="6.4" text-anchor="end" fill="#222" stroke="#222" stroke-width="0.06">100%</text>
<line x1="301.50" y1="271.60" x2="304.60" y2="271.60" stroke="#1a1a1a" stroke-width="0.9"/>
<text x="297.70" y="273.90" font-size="6.4" text-anchor="end" fill="#222" stroke="#222" stroke-width="0.06">75%</text>
<line x1="301.50" y1="295.00" x2="304.60" y2="295.00" stroke="#1a1a1a" stroke-width="0.9"/>
<text x="297.70" y="297.30" font-size="6.4" text-anchor="end" fill="#222" stroke="#222" stroke-width="0.06">50%</text>
<line x1="301.50" y1="318.40" x2="304.60" y2="318.40" stroke="#1a1a1a" stroke-width="0.9"/>
<text x="297.70" y="320.70" font-size="6.4" text-anchor="end" fill="#222" stroke="#222" stroke-width="0.06">25%</text>
<line x1="304.70" y1="243.20" x2="304.70" y2="341.00" stroke="#1a1a1a" stroke-width="1.1"/>
<line x1="304.20" y1="340.40" x2="417.70" y2="340.40" stroke="#1a1a1a" stroke-width="1.3"/>
<line x1="320.60" y1="340.30" x2="320.60" y2="343.30" stroke="#1a1a1a" stroke-width="0.9"/>
<line x1="347.70" y1="340.30" x2="347.70" y2="343.30" stroke="#1a1a1a" stroke-width="0.9"/>
<line x1="374.40" y1="340.30" x2="374.40" y2="343.30" stroke="#1a1a1a" stroke-width="0.9"/>
<line x1="401.80" y1="340.30" x2="401.80" y2="343.30" stroke="#1a1a1a" stroke-width="0.9"/>
<text transform="translate(275.90,337.30) rotate(-90)" font-size="7.7" text-anchor="start" fill="#111" textLength="90.50" lengthAdjust="spacingAndGlyphs" stroke="#111" stroke-width="0.15">Cells above autofluorescence (%)</text>
<text x="320.60" y="353.00" font-size="6.4" text-anchor="middle" fill="#222" textLength="20.80" lengthAdjust="spacingAndGlyphs" stroke="#222" stroke-width="0.06">CD117</text>
<text x="347.85" y="353.00" font-size="6.4" text-anchor="middle" fill="#222" textLength="21.50" lengthAdjust="spacingAndGlyphs" stroke="#222" stroke-width="0.06">CD123</text>
<text x="374.80" y="353.00" font-size="6.4" text-anchor="middle" fill="#222" textLength="17.60" lengthAdjust="spacingAndGlyphs" stroke="#222" stroke-width="0.06">CD33</text>
<text x="401.80" y="353.00" font-size="6.4" text-anchor="middle" fill="#222" textLength="17.80" lengthAdjust="spacingAndGlyphs" stroke="#222" stroke-width="0.06">MSLN</text>
<g fill="#8e0612" stroke="#3c0006" stroke-width="0.45"><circle cx="313.00" cy="253.80" r="1.15"/><circle cx="315.40" cy="252.30" r="1.15"/><circle cx="316.90" cy="249.20" r="1.15"/><circle cx="318.60" cy="250.70" r="1.15"/><circle cx="320.80" cy="249.10" r="1.15"/><circle cx="322.20" cy="248.00" r="1.15"/><circle cx="323.00" cy="248.80" r="1.15"/><circle cx="324.60" cy="251.00" r="1.15"/><circle cx="327.20" cy="251.20" r="1.15"/><circle cx="328.60" cy="253.60" r="1.15"/><circle cx="324.10" cy="254.60" r="1.15"/><circle cx="320.50" cy="258.40" r="1.15"/><circle cx="318.90" cy="261.00" r="1.15"/><circle cx="327.80" cy="262.80" r="1.15"/><circle cx="315.00" cy="265.60" r="1.15"/><circle cx="325.70" cy="271.50" r="1.15"/><circle cx="317.80" cy="276.40" r="1.15"/><circle cx="317.20" cy="278.60" r="1.15"/><circle cx="314.20" cy="281.50" r="1.15"/><circle cx="318.50" cy="286.50" r="1.15"/><circle cx="325.70" cy="289.20" r="1.15"/><circle cx="322.00" cy="299.30" r="1.15"/><circle cx="314.70" cy="303.90" r="1.15"/><circle cx="316.50" cy="304.10" r="1.15"/><circle cx="318.90" cy="305.30" r="1.15"/><circle cx="323.20" cy="303.70" r="1.15"/><circle cx="323.20" cy="313.20" r="1.15"/><circle cx="313.80" cy="329.60" r="1.15"/><circle cx="322.80" cy="329.00" r="1.15"/><circle cx="326.80" cy="330.50" r="1.15"/><circle cx="328.40" cy="332.40" r="1.15"/><circle cx="320.20" cy="336.30" r="1.15"/></g>
<g fill="#1c3a78" stroke="#0a1636" stroke-width="0.45"><circle cx="341.90" cy="248.10" r="1.15"/><circle cx="345.50" cy="248.10" r="1.15"/><circle cx="347.20" cy="249.40" r="1.15"/><circle cx="349.40" cy="247.90" r="1.15"/><circle cx="352.40" cy="247.90" r="1.15"/><circle cx="355.70" cy="247.60" r="1.15"/><circle cx="341.40" cy="249.40" r="1.15"/><circle cx="344.60" cy="249.40" r="1.15"/><circle cx="352.40" cy="249.60" r="1.15"/><circle cx="339.60" cy="252.20" r="1.15"/><circle cx="342.00" cy="252.60" r="1.15"/><circle cx="344.20" cy="252.20" r="1.15"/><circle cx="346.40" cy="252.80" r="1.15"/><circle cx="353.70" cy="251.30" r="1.15"/><circle cx="351.50" cy="253.90" r="1.15"/><circle cx="342.90" cy="254.80" r="1.15"/><circle cx="355.20" cy="254.80" r="1.15"/><circle cx="343.30" cy="258.70" r="1.15"/><circle cx="346.20" cy="261.10" r="1.15"/><circle cx="343.60" cy="264.90" r="1.15"/><circle cx="352.40" cy="264.30" r="1.15"/><circle cx="353.10" cy="266.30" r="1.15"/><circle cx="345.90" cy="268.00" r="1.15"/><circle cx="344.20" cy="272.30" r="1.15"/><circle cx="355.40" cy="271.60" r="1.15"/><circle cx="342.00" cy="292.70" r="1.15"/><circle cx="343.50" cy="296.80" r="1.15"/><circle cx="343.50" cy="308.60" r="1.15"/><circle cx="343.00" cy="327.70" r="1.15"/></g>
<g fill="#4c9a1e" stroke="#1c4a08" stroke-width="0.45"><circle cx="366.30" cy="248.10" r="1.15"/><circle cx="368.50" cy="248.30" r="1.15"/><circle cx="370.20" cy="248.00" r="1.15"/><circle cx="372.40" cy="248.20" r="1.15"/><circle cx="374.10" cy="248.00" r="1.15"/><circle cx="377.50" cy="248.20" r="1.15"/><circle cx="379.30" cy="248.00" r="1.15"/><circle cx="381.00" cy="248.30" r="1.15"/><circle cx="368.90" cy="250.00" r="1.15"/><circle cx="370.60" cy="250.70" r="1.15"/><circle cx="375.80" cy="250.50" r="1.15"/><circle cx="378.00" cy="251.60" r="1.15"/><circle cx="380.60" cy="250.20" r="1.15"/><circle cx="369.90" cy="256.80" r="1.15"/><circle cx="369.30" cy="259.40" r="1.15"/><circle cx="380.60" cy="257.40" r="1.15"/><circle cx="372.20" cy="262.60" r="1.15"/><circle cx="376.70" cy="262.00" r="1.15"/><circle cx="370.20" cy="268.00" r="1.15"/><circle cx="375.40" cy="286.00" r="1.15"/><circle cx="379.40" cy="291.90" r="1.15"/><circle cx="372.20" cy="316.40" r="1.15"/></g>
<g fill="#4a1a6c" stroke="#1e0630" stroke-width="0.45"><circle cx="393.80" cy="248.10" r="1.15"/><circle cx="396.50" cy="248.90" r="1.15"/><circle cx="397.00" cy="251.80" r="1.15"/><circle cx="401.90" cy="249.90" r="1.15"/><circle cx="404.30" cy="248.90" r="1.15"/><circle cx="409.20" cy="250.30" r="1.15"/><circle cx="393.80" cy="253.90" r="1.15"/><circle cx="401.40" cy="252.90" r="1.15"/><circle cx="401.40" cy="255.00" r="1.15"/><circle cx="394.10" cy="260.20" r="1.15"/><circle cx="397.40" cy="258.90" r="1.15"/><circle cx="398.40" cy="260.80" r="1.15"/><circle cx="399.90" cy="260.80" r="1.15"/><circle cx="398.90" cy="263.50" r="1.15"/><circle cx="404.90" cy="258.10" r="1.15"/><circle cx="409.50" cy="261.30" r="1.15"/><circle cx="407.80" cy="262.90" r="1.15"/><circle cx="402.40" cy="267.60" r="1.15"/><circle cx="404.30" cy="267.80" r="1.15"/><circle cx="407.30" cy="268.60" r="1.15"/><circle cx="408.40" cy="269.90" r="1.15"/><circle cx="394.90" cy="273.20" r="1.15"/><circle cx="398.90" cy="272.60" r="1.15"/><circle cx="399.90" cy="271.90" r="1.15"/><circle cx="398.10" cy="279.10" r="1.15"/><circle cx="394.40" cy="298.60" r="1.15"/><circle cx="396.30" cy="296.10" r="1.15"/><circle cx="400.20" cy="295.90" r="1.15"/><circle cx="398.90" cy="300.30" r="1.15"/><circle cx="406.00" cy="297.40" r="1.15"/><circle cx="409.40" cy="295.20" r="1.15"/><circle cx="400.50" cy="304.40" r="1.15"/><circle cx="406.70" cy="304.20" r="1.15"/><circle cx="404.80" cy="310.20" r="1.15"/><circle cx="404.10" cy="311.70" r="1.15"/></g>
<rect x="0.5" y="0.5" width="519" height="369" fill="none" stroke="#000" stroke-width="1.2"/>
</svg>
</body></html>
